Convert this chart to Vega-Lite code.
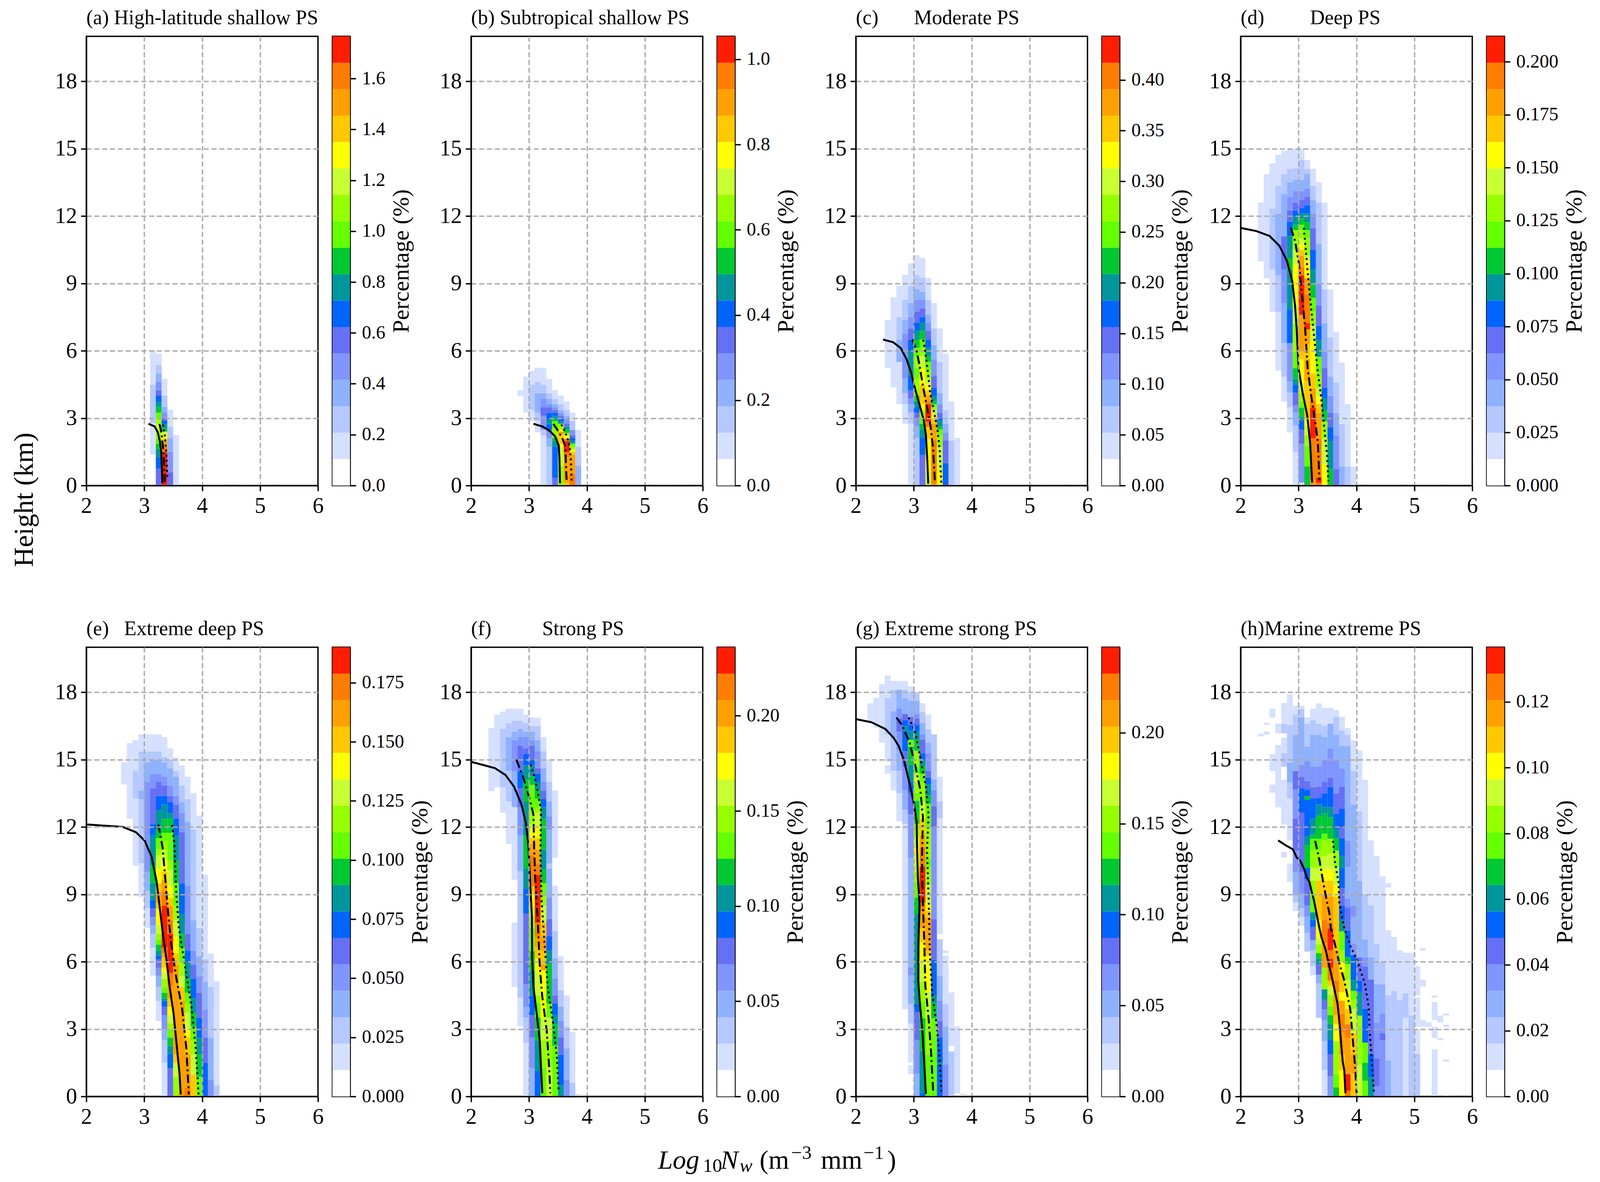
{"$schema":"https://vega.github.io/schema/vega-lite/v6.json","background":"white","padding":{"left":25,"top":18,"right":0,"bottom":0},"bounds":"flush","spacing":1564,
"config":{"range":{"ordinal":["#ffffff","#d5e0ff","#b5c8ff","#8fb2ff","#8095ff","#6570f5","#0064ff","#00969b","#00c832","#64ff00","#96ff00","#c8ff32","#ffff00","#ffc800","#ffa000","#ff7d00","#ff1e00"]},
"view":{"stroke":"#000","strokeWidth":3.5},
"title":{"font":"Liberation Serif","fontSize":52,"fontWeight":"normal","anchor":"start","frame":"group","offset":20,"color":"#000"},
"axis":{"labelFont":"Liberation Serif","titleFont":"Liberation Serif","titleFontWeight":"normal","titleColor":"#000","labelColor":"#000","labelFontSize":57,"labelPadding":10,"labelOverlap":false,"labelFlush":false,"labelBound":false,"tickColor":"#000","tickWidth":3.5,"tickSize":14,"domainColor":"#000","domainWidth":3.5,"grid":true,"gridColor":"#aaaaaa","gridWidth":3.5,"gridDash":[13,7]},
"axisRight":{"grid":false,"labelFontSize":48,"tickSize":15,"labelPadding":15,"titleFontSize":60,"titleAngle":270,"titlePadding":12,"titleBaseline":"top"}},
"datasets":{
"c":[{"l":0,"lo":0,"hi":1},{"l":1,"lo":1,"hi":2},{"l":2,"lo":2,"hi":3},{"l":3,"lo":3,"hi":4},{"l":4,"lo":4,"hi":5},{"l":5,"lo":5,"hi":6},{"l":6,"lo":6,"hi":7},{"l":7,"lo":7,"hi":8},{"l":8,"lo":8,"hi":9},{"l":9,"lo":9,"hi":10},{"l":10,"lo":10,"hi":11},{"l":11,"lo":11,"hi":12},{"l":12,"lo":12,"hi":13},{"l":13,"lo":13,"hi":14},{"l":14,"lo":14,"hi":15},{"l":15,"lo":15,"hi":16},{"l":16,"lo":16,"hi":17}],
"a":[{"x":3.15,"y":1.38,"y2":2.77,"l":1},{"x":3.15,"y":2.77,"y2":4.49,"l":2},{"x":3.15,"y":4.49,"y2":6,"l":1},
{"x":3.25,"y":0,"y2":0.75,"l":5},{"x":3.25,"y":0.75,"y2":1.25,"l":6},{"x":3.25,"y":1.25,"y2":1.62,"l":7},{"x":3.25,"y":1.62,"y2":1.87,"l":8},{"x":3.25,"y":1.87,"y2":2.1,"l":9},{"x":3.25,"y":2.1,"y2":2.45,"l":10},{"x":3.25,"y":2.45,"y2":2.75,"l":11},{"x":3.25,"y":2.75,"y2":3,"l":10},{"x":3.25,"y":3,"y2":3.25,"l":9},{"x":3.25,"y":3.25,"y2":3.5,"l":8},{"x":3.25,"y":3.5,"y2":3.74,"l":7},{"x":3.25,"y":3.74,"y2":4,"l":6},{"x":3.25,"y":4,"y2":4.25,"l":5},{"x":3.25,"y":4.25,"y2":4.63,"l":4},{"x":3.25,"y":4.63,"y2":5,"l":3},{"x":3.25,"y":5,"y2":5.37,"l":2},{"x":3.25,"y":5.37,"y2":5.87,"l":1},
{"x":3.35,"y":0,"y2":1.49,"l":16},{"x":3.35,"y":1.49,"y2":1.75,"l":15},{"x":3.35,"y":1.75,"y2":1.98,"l":14},{"x":3.35,"y":1.98,"y2":2.1,"l":13},{"x":3.35,"y":2.1,"y2":2.3,"l":12},{"x":3.35,"y":2.3,"y2":2.4,"l":11},{"x":3.35,"y":2.4,"y2":2.55,"l":8},{"x":3.35,"y":2.55,"y2":2.74,"l":7},{"x":3.35,"y":2.74,"y2":2.89,"l":6},{"x":3.35,"y":2.89,"y2":3,"l":5},{"x":3.35,"y":3,"y2":3.25,"l":4},{"x":3.35,"y":3.25,"y2":3.5,"l":3},{"x":3.35,"y":3.5,"y2":4,"l":2},{"x":3.35,"y":4,"y2":4.75,"l":1},
{"x":3.45,"y":0,"y2":0.6,"l":5},{"x":3.45,"y":0.6,"y2":1.5,"l":4},{"x":3.45,"y":1.5,"y2":2.12,"l":3},{"x":3.45,"y":2.12,"y2":2.62,"l":2},{"x":3.45,"y":2.62,"y2":3.37,"l":1},{"x":3.55,"y":0,"y2":2.25,"l":1}],
"b":[{"x":2.85,"y":4,"y2":4.24,"l":1},{"x":2.95,"y":3.25,"y2":4.85,"l":1},{"x":3.05,"y":2.88,"y2":3.36,"l":1},{"x":3.05,"y":3.36,"y2":4.49,"l":2},{"x":3.05,"y":4.49,"y2":5.11,"l":1},
{"x":3.15,"y":2.37,"y2":2.88,"l":1},{"x":3.15,"y":2.88,"y2":3.24,"l":2},{"x":3.15,"y":3.24,"y2":4.11,"l":3},{"x":3.15,"y":4.11,"y2":4.61,"l":2},{"x":3.15,"y":4.61,"y2":5.24,"l":1},
{"x":3.25,"y":0,"y2":2.23,"l":1},{"x":3.25,"y":2.23,"y2":2.48,"l":2},{"x":3.25,"y":2.48,"y2":3.11,"l":4},{"x":3.25,"y":3.11,"y2":3.49,"l":5},{"x":3.25,"y":3.49,"y2":3.87,"l":4},{"x":3.25,"y":3.87,"y2":4.11,"l":3},{"x":3.25,"y":4.11,"y2":4.49,"l":2},{"x":3.25,"y":4.49,"y2":5.24,"l":1},
{"x":3.35,"y":0,"y2":1.73,"l":2},{"x":3.35,"y":1.73,"y2":2.1,"l":3},{"x":3.35,"y":2.1,"y2":2.4,"l":4},{"x":3.35,"y":2.4,"y2":2.48,"l":5},{"x":3.35,"y":2.48,"y2":2.74,"l":6},{"x":3.35,"y":2.74,"y2":2.94,"l":7},{"x":3.35,"y":2.94,"y2":3.24,"l":6},{"x":3.35,"y":3.24,"y2":3.49,"l":5},{"x":3.35,"y":3.49,"y2":3.62,"l":4},{"x":3.35,"y":3.62,"y2":3.87,"l":3},{"x":3.35,"y":3.87,"y2":4.11,"l":2},{"x":3.35,"y":4.11,"y2":4.74,"l":1},
{"x":3.45,"y":0,"y2":0.35,"l":5},{"x":3.45,"y":0.35,"y2":1.73,"l":6},{"x":3.45,"y":1.73,"y2":1.98,"l":7},{"x":3.45,"y":1.98,"y2":2.12,"l":8},{"x":3.45,"y":2.12,"y2":2.55,"l":10},{"x":3.45,"y":2.55,"y2":2.87,"l":9},{"x":3.45,"y":2.87,"y2":2.94,"l":8},{"x":3.45,"y":2.94,"y2":3.11,"l":7},{"x":3.45,"y":3.11,"y2":3.24,"l":6},{"x":3.45,"y":3.24,"y2":3.36,"l":5},{"x":3.45,"y":3.36,"y2":3.49,"l":4},{"x":3.45,"y":3.49,"y2":3.62,"l":3},{"x":3.45,"y":3.62,"y2":3.87,"l":2},{"x":3.45,"y":3.87,"y2":4.24,"l":1},
{"x":3.55,"y":0,"y2":0.87,"l":10},{"x":3.55,"y":0.87,"y2":1.73,"l":11},{"x":3.55,"y":1.73,"y2":1.85,"l":12},{"x":3.55,"y":1.85,"y2":2.3,"l":13},{"x":3.55,"y":2.3,"y2":2.4,"l":14},{"x":3.55,"y":2.4,"y2":2.5,"l":12},{"x":3.55,"y":2.5,"y2":2.75,"l":10},{"x":3.55,"y":2.75,"y2":2.87,"l":7},{"x":3.55,"y":2.87,"y2":3,"l":6},{"x":3.55,"y":3,"y2":3.11,"l":5},{"x":3.55,"y":3.11,"y2":3.24,"l":4},{"x":3.55,"y":3.24,"y2":3.36,"l":3},{"x":3.55,"y":3.36,"y2":3.62,"l":2},{"x":3.55,"y":3.62,"y2":4,"l":1},
{"x":3.65,"y":0,"y2":0.12,"l":13},{"x":3.65,"y":0.12,"y2":1.25,"l":14},{"x":3.65,"y":1.25,"y2":1.48,"l":15},{"x":3.65,"y":1.48,"y2":1.98,"l":16},{"x":3.65,"y":1.98,"y2":2.08,"l":15},{"x":3.65,"y":2.08,"y2":2.23,"l":12},{"x":3.65,"y":2.23,"y2":2.35,"l":10},{"x":3.65,"y":2.35,"y2":2.5,"l":8},{"x":3.65,"y":2.5,"y2":2.62,"l":7},{"x":3.65,"y":2.62,"y2":2.75,"l":5},{"x":3.65,"y":2.75,"y2":3,"l":4},{"x":3.65,"y":3,"y2":3.11,"l":3},{"x":3.65,"y":3.11,"y2":3.36,"l":2},{"x":3.65,"y":3.36,"y2":3.74,"l":1},
{"x":3.75,"y":0,"y2":0.5,"l":15},{"x":3.75,"y":0.5,"y2":1.36,"l":14},{"x":3.75,"y":1.36,"y2":1.5,"l":13},{"x":3.75,"y":1.5,"y2":1.62,"l":12},{"x":3.75,"y":1.62,"y2":1.73,"l":10},{"x":3.75,"y":1.73,"y2":1.87,"l":9},{"x":3.75,"y":1.87,"y2":2,"l":7},{"x":3.75,"y":2,"y2":2.12,"l":6},{"x":3.75,"y":2.12,"y2":2.25,"l":5},{"x":3.75,"y":2.25,"y2":2.48,"l":4},{"x":3.75,"y":2.48,"y2":2.87,"l":2},{"x":3.75,"y":2.87,"y2":3.24,"l":1},
{"x":3.85,"y":0,"y2":0.87,"l":3},{"x":3.85,"y":0.87,"y2":1.73,"l":2},{"x":3.85,"y":1.73,"y2":2.48,"l":1}],
"cc":[{"x":2.55,"y":5.24,"y2":7.38,"l":1},{"x":2.65,"y":4.38,"y2":8.38,"l":1},{"x":2.75,"y":3.62,"y2":5.5,"l":1},{"x":2.75,"y":5.5,"y2":6.49,"l":3},{"x":2.75,"y":6.49,"y2":7.5,"l":2},{"x":2.75,"y":7.5,"y2":8.89,"l":1},
{"x":2.85,"y":2.75,"y2":3.62,"l":1},{"x":2.85,"y":3.62,"y2":4.12,"l":2},{"x":2.85,"y":4.12,"y2":4.76,"l":3},{"x":2.85,"y":4.76,"y2":6.75,"l":4},{"x":2.85,"y":6.75,"y2":7.38,"l":3},{"x":2.85,"y":7.38,"y2":8.26,"l":2},{"x":2.85,"y":8.26,"y2":9.38,"l":1},
{"x":2.95,"y":0,"y2":2.75,"l":1},{"x":2.95,"y":2.75,"y2":3.24,"l":2},{"x":2.95,"y":3.24,"y2":3.62,"l":3},{"x":2.95,"y":3.62,"y2":3.87,"l":4},{"x":2.95,"y":3.87,"y2":4.24,"l":5},{"x":2.95,"y":4.24,"y2":4.87,"l":6},{"x":2.95,"y":4.87,"y2":6,"l":7},{"x":2.95,"y":6,"y2":6.5,"l":6},{"x":2.95,"y":6.5,"y2":7,"l":5},{"x":2.95,"y":7,"y2":7.5,"l":4},{"x":2.95,"y":7.5,"y2":8.13,"l":3},{"x":2.95,"y":8.13,"y2":8.89,"l":2},{"x":2.95,"y":8.89,"y2":9.89,"l":1},
{"x":3.05,"y":0,"y2":2.12,"l":2},{"x":3.05,"y":2.12,"y2":2.64,"l":3},{"x":3.05,"y":2.64,"y2":3,"l":4},{"x":3.05,"y":3,"y2":3.24,"l":5},{"x":3.05,"y":3.24,"y2":3.5,"l":6},{"x":3.05,"y":3.5,"y2":3.76,"l":7},{"x":3.05,"y":3.76,"y2":4,"l":8},{"x":3.05,"y":4,"y2":4.76,"l":10},{"x":3.05,"y":4.76,"y2":5.24,"l":9},{"x":3.05,"y":5.24,"y2":5.76,"l":10},{"x":3.05,"y":5.76,"y2":6.13,"l":9},{"x":3.05,"y":6.13,"y2":6.5,"l":8},{"x":3.05,"y":6.5,"y2":6.89,"l":7},{"x":3.05,"y":6.89,"y2":7.25,"l":6},{"x":3.05,"y":7.25,"y2":7.75,"l":5},{"x":3.05,"y":7.75,"y2":8.26,"l":4},{"x":3.05,"y":8.26,"y2":8.76,"l":3},{"x":3.05,"y":8.76,"y2":9.38,"l":2},{"x":3.05,"y":9.38,"y2":10.26,"l":1},
{"x":3.15,"y":0,"y2":1.36,"l":5},{"x":3.15,"y":1.36,"y2":2.12,"l":6},{"x":3.15,"y":2.12,"y2":2.5,"l":7},{"x":3.15,"y":2.5,"y2":2.75,"l":8},{"x":3.15,"y":2.75,"y2":2.96,"l":9},{"x":3.15,"y":2.96,"y2":3.36,"l":10},{"x":3.15,"y":3.36,"y2":3.63,"l":12},{"x":3.15,"y":3.63,"y2":4.48,"l":13},{"x":3.15,"y":4.48,"y2":5.24,"l":12},{"x":3.15,"y":5.24,"y2":5.76,"l":11},{"x":3.15,"y":5.76,"y2":6.13,"l":10},{"x":3.15,"y":6.13,"y2":6.5,"l":9},{"x":3.15,"y":6.5,"y2":6.89,"l":8},{"x":3.15,"y":6.89,"y2":7.25,"l":7},{"x":3.15,"y":7.25,"y2":7.5,"l":6},{"x":3.15,"y":7.5,"y2":7.89,"l":5},{"x":3.15,"y":7.89,"y2":8.26,"l":4},{"x":3.15,"y":8.26,"y2":8.63,"l":3},{"x":3.15,"y":8.63,"y2":9.25,"l":2},{"x":3.15,"y":9.25,"y2":10.13,"l":1},
{"x":3.25,"y":0,"y2":0.6,"l":11},{"x":3.25,"y":0.6,"y2":2.08,"l":12},{"x":3.25,"y":2.08,"y2":2.6,"l":13},{"x":3.25,"y":2.6,"y2":2.84,"l":15},{"x":3.25,"y":2.84,"y2":3.63,"l":16},{"x":3.25,"y":3.63,"y2":3.75,"l":15},{"x":3.25,"y":3.75,"y2":4,"l":14},{"x":3.25,"y":4,"y2":4.24,"l":13},{"x":3.25,"y":4.24,"y2":4.5,"l":12},{"x":3.25,"y":4.5,"y2":4.74,"l":11},{"x":3.25,"y":4.74,"y2":5.12,"l":10},{"x":3.25,"y":5.12,"y2":5.5,"l":9},{"x":3.25,"y":5.5,"y2":5.76,"l":8},{"x":3.25,"y":5.76,"y2":6.13,"l":7},{"x":3.25,"y":6.13,"y2":6.5,"l":6},{"x":3.25,"y":6.5,"y2":6.89,"l":5},{"x":3.25,"y":6.89,"y2":7.25,"l":4},{"x":3.25,"y":7.25,"y2":7.62,"l":3},{"x":3.25,"y":7.62,"y2":8.26,"l":2},{"x":3.25,"y":8.26,"y2":9.25,"l":1},
{"x":3.35,"y":0,"y2":0.08,"l":14},{"x":3.35,"y":0.08,"y2":2,"l":15},{"x":3.35,"y":2,"y2":2.75,"l":14},{"x":3.35,"y":2.75,"y2":3,"l":13},{"x":3.35,"y":3,"y2":3.12,"l":12},{"x":3.35,"y":3.12,"y2":3.36,"l":11},{"x":3.35,"y":3.36,"y2":3.5,"l":10},{"x":3.35,"y":3.5,"y2":3.62,"l":9},{"x":3.35,"y":3.62,"y2":3.75,"l":8},{"x":3.35,"y":3.75,"y2":4,"l":7},{"x":3.35,"y":4,"y2":4.36,"l":6},{"x":3.35,"y":4.36,"y2":4.87,"l":5},{"x":3.35,"y":4.87,"y2":5.63,"l":4},{"x":3.35,"y":5.63,"y2":6.25,"l":3},{"x":3.35,"y":6.25,"y2":7,"l":2},{"x":3.35,"y":7,"y2":8.13,"l":1},
{"x":3.45,"y":0,"y2":0.62,"l":12},{"x":3.45,"y":0.62,"y2":1.72,"l":11},{"x":3.45,"y":1.72,"y2":2.24,"l":10},{"x":3.45,"y":2.24,"y2":2.5,"l":9},{"x":3.45,"y":2.5,"y2":2.63,"l":8},{"x":3.45,"y":2.63,"y2":2.88,"l":7},{"x":3.45,"y":2.88,"y2":3,"l":6},{"x":3.45,"y":3,"y2":3.24,"l":5},{"x":3.45,"y":3.24,"y2":3.62,"l":4},{"x":3.45,"y":3.62,"y2":4.12,"l":3},{"x":3.45,"y":4.12,"y2":5.5,"l":2},{"x":3.45,"y":5.5,"y2":7,"l":1},
{"x":3.55,"y":0,"y2":1,"l":6},{"x":3.55,"y":1,"y2":2,"l":5},{"x":3.55,"y":2,"y2":2.36,"l":4},{"x":3.55,"y":2.36,"y2":2.75,"l":3},{"x":3.55,"y":2.75,"y2":3.36,"l":2},{"x":3.55,"y":3.36,"y2":5.87,"l":1},
{"x":3.65,"y":0,"y2":2,"l":2},{"x":3.65,"y":2,"y2":3.75,"l":1},{"x":3.75,"y":0,"y2":2.12,"l":1}],
"d":[{"x":2.35,"y":9.98,"y2":12.6,"l":1},{"x":2.45,"y":9.23,"y2":13.86,"l":1},{"x":2.55,"y":7.73,"y2":9.62,"l":1},{"x":2.55,"y":9.62,"y2":12.33,"l":2},{"x":2.55,"y":12.33,"y2":14.35,"l":1},
{"x":2.65,"y":5.12,"y2":7.73,"l":1},{"x":2.65,"y":7.73,"y2":9.36,"l":2},{"x":2.65,"y":9.36,"y2":12.11,"l":3},{"x":2.65,"y":12.11,"y2":13.35,"l":2},{"x":2.65,"y":13.35,"y2":14.72,"l":1},
{"x":2.75,"y":3.74,"y2":4.85,"l":1},{"x":2.75,"y":4.85,"y2":6.34,"l":2},{"x":2.75,"y":6.34,"y2":8.12,"l":3},{"x":2.75,"y":8.12,"y2":9.62,"l":4},{"x":2.75,"y":9.62,"y2":11.1,"l":5},{"x":2.75,"y":11.1,"y2":13,"l":3},{"x":2.75,"y":13,"y2":13.86,"l":2},{"x":2.75,"y":13.86,"y2":14.9,"l":1},
{"x":2.85,"y":2.37,"y2":3.49,"l":1},{"x":2.85,"y":3.49,"y2":4.13,"l":2},{"x":2.85,"y":4.13,"y2":4.62,"l":3},{"x":2.85,"y":4.62,"y2":6.34,"l":4},{"x":2.85,"y":6.34,"y2":7.84,"l":6},{"x":2.85,"y":7.84,"y2":9.62,"l":7},{"x":2.85,"y":9.62,"y2":10.12,"l":8},{"x":2.85,"y":10.12,"y2":11.11,"l":7},{"x":2.85,"y":11.11,"y2":11.75,"l":6},{"x":2.85,"y":11.75,"y2":12.25,"l":5},{"x":2.85,"y":12.25,"y2":12.85,"l":4},{"x":2.85,"y":12.85,"y2":13.5,"l":3},{"x":2.85,"y":13.5,"y2":14.1,"l":2},{"x":2.85,"y":14.1,"y2":15,"l":1},
{"x":2.95,"y":0,"y2":1.49,"l":1},{"x":2.95,"y":1.49,"y2":2.68,"l":2},{"x":2.95,"y":2.68,"y2":3.24,"l":3},{"x":2.95,"y":3.24,"y2":3.57,"l":4},{"x":2.95,"y":3.57,"y2":4.13,"l":5},{"x":2.95,"y":4.13,"y2":4.5,"l":6},{"x":2.95,"y":4.5,"y2":4.74,"l":7},{"x":2.95,"y":4.74,"y2":5.23,"l":8},{"x":2.95,"y":5.23,"y2":5.96,"l":9},{"x":2.95,"y":5.96,"y2":7.23,"l":10},{"x":2.95,"y":7.23,"y2":8,"l":11},{"x":2.95,"y":8,"y2":9.86,"l":12},{"x":2.95,"y":9.86,"y2":10.5,"l":11},{"x":2.95,"y":10.5,"y2":11.37,"l":10},{"x":2.95,"y":11.37,"y2":11.61,"l":8},{"x":2.95,"y":11.61,"y2":11.98,"l":7},{"x":2.95,"y":11.98,"y2":12.25,"l":6},{"x":2.95,"y":12.25,"y2":12.6,"l":5},{"x":2.95,"y":12.6,"y2":13.11,"l":4},{"x":2.95,"y":13.11,"y2":13.6,"l":3},{"x":2.95,"y":13.6,"y2":14.13,"l":2},{"x":2.95,"y":14.13,"y2":14.97,"l":1},
{"x":3.05,"y":0,"y2":0.13,"l":1},{"x":3.05,"y":0.13,"y2":1.85,"l":4},{"x":3.05,"y":1.85,"y2":2.48,"l":5},{"x":3.05,"y":2.48,"y2":2.9,"l":6},{"x":3.05,"y":2.9,"y2":3.07,"l":7},{"x":3.05,"y":3.07,"y2":3.46,"l":8},{"x":3.05,"y":3.46,"y2":3.74,"l":9},{"x":3.05,"y":3.74,"y2":4.13,"l":10},{"x":3.05,"y":4.13,"y2":4.57,"l":11},{"x":3.05,"y":4.57,"y2":5.62,"l":12},{"x":3.05,"y":5.62,"y2":5.96,"l":13},{"x":3.05,"y":5.96,"y2":7.6,"l":14},{"x":3.05,"y":7.6,"y2":9.36,"l":16},{"x":3.05,"y":9.36,"y2":9.73,"l":15},{"x":3.05,"y":9.73,"y2":10.23,"l":14},{"x":3.05,"y":10.23,"y2":10.5,"l":13},{"x":3.05,"y":10.5,"y2":10.75,"l":12},{"x":3.05,"y":10.75,"y2":11,"l":11},{"x":3.05,"y":11,"y2":11.37,"l":10},{"x":3.05,"y":11.37,"y2":11.61,"l":9},{"x":3.05,"y":11.61,"y2":11.89,"l":8},{"x":3.05,"y":11.89,"y2":12.11,"l":7},{"x":3.05,"y":12.11,"y2":12.36,"l":6},{"x":3.05,"y":12.36,"y2":12.72,"l":5},{"x":3.05,"y":12.72,"y2":13.11,"l":4},{"x":3.05,"y":13.11,"y2":13.6,"l":3},{"x":3.05,"y":13.6,"y2":14.5,"l":2},{"x":3.05,"y":14.5,"y2":15,"l":1},
{"x":3.15,"y":0,"y2":0.85,"l":8},{"x":3.15,"y":0.85,"y2":1.74,"l":9},{"x":3.15,"y":1.74,"y2":2.24,"l":10},{"x":3.15,"y":2.24,"y2":2.63,"l":11},{"x":3.15,"y":2.63,"y2":3,"l":12},{"x":3.15,"y":3,"y2":4.68,"l":13},{"x":3.15,"y":4.68,"y2":5.62,"l":14},{"x":3.15,"y":5.62,"y2":6.29,"l":13},{"x":3.15,"y":6.29,"y2":6.95,"l":14},{"x":3.15,"y":6.95,"y2":7.23,"l":16},{"x":3.15,"y":7.23,"y2":8.5,"l":15},{"x":3.15,"y":8.5,"y2":9.23,"l":14},{"x":3.15,"y":9.23,"y2":10,"l":12},{"x":3.15,"y":10,"y2":10.26,"l":11},{"x":3.15,"y":10.26,"y2":11,"l":10},{"x":3.15,"y":11,"y2":11.37,"l":9},{"x":3.15,"y":11.37,"y2":11.72,"l":8},{"x":3.15,"y":11.72,"y2":12.11,"l":7},{"x":3.15,"y":12.11,"y2":12.48,"l":6},{"x":3.15,"y":12.48,"y2":12.85,"l":5},{"x":3.15,"y":12.85,"y2":13.22,"l":4},{"x":3.15,"y":13.22,"y2":13.86,"l":3},{"x":3.15,"y":13.86,"y2":14.1,"l":2},{"x":3.15,"y":14.1,"y2":14.5,"l":1},
{"x":3.25,"y":0,"y2":0.25,"l":14},{"x":3.25,"y":0.25,"y2":2.1,"l":15},{"x":3.25,"y":2.1,"y2":3.46,"l":16},{"x":3.25,"y":3.46,"y2":3.8,"l":15},{"x":3.25,"y":3.8,"y2":4.34,"l":14},{"x":3.25,"y":4.34,"y2":5,"l":13},{"x":3.25,"y":5,"y2":6.4,"l":12},{"x":3.25,"y":6.4,"y2":7.12,"l":11},{"x":3.25,"y":7.12,"y2":7.73,"l":10},{"x":3.25,"y":7.73,"y2":8.36,"l":9},{"x":3.25,"y":8.36,"y2":9,"l":8},{"x":3.25,"y":9,"y2":9.62,"l":7},{"x":3.25,"y":9.62,"y2":10.5,"l":6},{"x":3.25,"y":10.5,"y2":11.47,"l":5},{"x":3.25,"y":11.47,"y2":12.11,"l":4},{"x":3.25,"y":12.11,"y2":12.72,"l":3},{"x":3.25,"y":12.72,"y2":13.35,"l":2},{"x":3.25,"y":13.35,"y2":14.1,"l":1},
{"x":3.35,"y":0,"y2":0.12,"l":15},{"x":3.35,"y":0.12,"y2":0.35,"l":16},{"x":3.35,"y":0.35,"y2":2.1,"l":15},{"x":3.35,"y":2.1,"y2":3.24,"l":14},{"x":3.35,"y":3.24,"y2":3.63,"l":13},{"x":3.35,"y":3.63,"y2":3.96,"l":12},{"x":3.35,"y":3.96,"y2":4.35,"l":11},{"x":3.35,"y":4.35,"y2":5,"l":10},{"x":3.35,"y":5,"y2":5.73,"l":9},{"x":3.35,"y":5.73,"y2":6.48,"l":7},{"x":3.35,"y":6.48,"y2":7.12,"l":6},{"x":3.35,"y":7.12,"y2":8,"l":5},{"x":3.35,"y":8,"y2":9,"l":4},{"x":3.35,"y":9,"y2":10.76,"l":3},{"x":3.35,"y":10.76,"y2":12.6,"l":2},{"x":3.35,"y":12.6,"y2":13.5,"l":1},
{"x":3.45,"y":0,"y2":0.96,"l":12},{"x":3.45,"y":0.96,"y2":2.1,"l":11},{"x":3.45,"y":2.1,"y2":2.85,"l":10},{"x":3.45,"y":2.85,"y2":3.35,"l":8},{"x":3.45,"y":3.35,"y2":3.88,"l":7},{"x":3.45,"y":3.88,"y2":4.35,"l":6},{"x":3.45,"y":4.35,"y2":5.23,"l":5},{"x":3.45,"y":5.23,"y2":5.96,"l":4},{"x":3.45,"y":5.96,"y2":7.23,"l":3},{"x":3.45,"y":7.23,"y2":8.73,"l":2},{"x":3.45,"y":8.73,"y2":12.6,"l":1},
{"x":3.55,"y":0,"y2":0.74,"l":8},{"x":3.55,"y":0.74,"y2":2,"l":7},{"x":3.55,"y":2,"y2":2.6,"l":6},{"x":3.55,"y":2.6,"y2":3.24,"l":5},{"x":3.55,"y":3.24,"y2":3.99,"l":4},{"x":3.55,"y":3.99,"y2":4.85,"l":3},{"x":3.55,"y":4.85,"y2":6.59,"l":2},{"x":3.55,"y":6.59,"y2":8.73,"l":1},
{"x":3.65,"y":0,"y2":0.74,"l":5},{"x":3.65,"y":0.74,"y2":2.24,"l":4},{"x":3.65,"y":2.24,"y2":3.24,"l":3},{"x":3.65,"y":3.24,"y2":4.6,"l":2},{"x":3.65,"y":4.6,"y2":6.84,"l":1},
{"x":3.75,"y":0,"y2":0.85,"l":3},{"x":3.75,"y":0.85,"y2":2.74,"l":2},{"x":3.75,"y":2.74,"y2":5.48,"l":1},{"x":3.85,"y":0,"y2":0.85,"l":2},{"x":3.85,"y":0.85,"y2":3.62,"l":1},{"x":3.95,"y":0,"y2":0.85,"l":1}],
"e":[{"x":2.65,"y":13.89,"y2":14.87,"l":1},{"x":2.75,"y":12.36,"y2":15.73,"l":1},{"x":2.85,"y":10.27,"y2":13.26,"l":1},{"x":2.85,"y":13.26,"y2":14.5,"l":2},{"x":2.85,"y":14.5,"y2":15.87,"l":1},
{"x":2.95,"y":8.88,"y2":10.38,"l":1},{"x":2.95,"y":10.38,"y2":13.23,"l":2},{"x":2.95,"y":13.23,"y2":13.62,"l":3},{"x":2.95,"y":13.62,"y2":15.36,"l":2},{"x":2.95,"y":15.36,"y2":16.12,"l":1},
{"x":3.05,"y":7.5,"y2":8.38,"l":1},{"x":3.05,"y":8.38,"y2":9.15,"l":2},{"x":3.05,"y":9.15,"y2":10,"l":3},{"x":3.05,"y":10,"y2":14,"l":4},{"x":3.05,"y":14,"y2":14.87,"l":3},{"x":3.05,"y":14.87,"y2":15.36,"l":2},{"x":3.05,"y":15.36,"y2":16.12,"l":1},
{"x":3.15,"y":5.37,"y2":6.62,"l":1},{"x":3.15,"y":6.62,"y2":7.24,"l":2},{"x":3.15,"y":7.24,"y2":7.62,"l":3},{"x":3.15,"y":7.62,"y2":8,"l":4},{"x":3.15,"y":8,"y2":8.38,"l":5},{"x":3.15,"y":8.38,"y2":8.76,"l":6},{"x":3.15,"y":8.76,"y2":9.5,"l":7},{"x":3.15,"y":9.5,"y2":10.27,"l":8},{"x":3.15,"y":10.27,"y2":11.62,"l":7},{"x":3.15,"y":11.62,"y2":12.12,"l":6},{"x":3.15,"y":12.12,"y2":13.73,"l":5},{"x":3.15,"y":13.73,"y2":14.36,"l":4},{"x":3.15,"y":14.36,"y2":15,"l":3},{"x":3.15,"y":15,"y2":15.36,"l":2},{"x":3.15,"y":15.36,"y2":16.12,"l":1},
{"x":3.25,"y":3.36,"y2":4.25,"l":1},{"x":3.25,"y":4.25,"y2":4.88,"l":2},{"x":3.25,"y":4.88,"y2":5.37,"l":3},{"x":3.25,"y":5.37,"y2":5.74,"l":4},{"x":3.25,"y":5.74,"y2":6.1,"l":5},{"x":3.25,"y":6.1,"y2":6.27,"l":6},{"x":3.25,"y":6.27,"y2":6.5,"l":7},{"x":3.25,"y":6.5,"y2":6.76,"l":8},{"x":3.25,"y":6.76,"y2":7,"l":9},{"x":3.25,"y":7,"y2":7.24,"l":10},{"x":3.25,"y":7.24,"y2":7.62,"l":11},{"x":3.25,"y":7.62,"y2":8.36,"l":12},{"x":3.25,"y":8.36,"y2":8.62,"l":13},{"x":3.25,"y":8.62,"y2":9.11,"l":14},{"x":3.25,"y":9.11,"y2":9.48,"l":13},{"x":3.25,"y":9.48,"y2":10.11,"l":12},{"x":3.25,"y":10.11,"y2":10.74,"l":11},{"x":3.25,"y":10.74,"y2":11,"l":10},{"x":3.25,"y":11,"y2":11.5,"l":9},{"x":3.25,"y":11.5,"y2":11.88,"l":8},{"x":3.25,"y":11.88,"y2":12.74,"l":7},{"x":3.25,"y":12.74,"y2":13.38,"l":6},{"x":3.25,"y":13.38,"y2":14,"l":5},{"x":3.25,"y":14,"y2":14.36,"l":4},{"x":3.25,"y":14.36,"y2":15,"l":3},{"x":3.25,"y":15,"y2":15.36,"l":2},{"x":3.25,"y":15.36,"y2":16.12,"l":1},
{"x":3.35,"y":0,"y2":1.5,"l":1},{"x":3.35,"y":1.5,"y2":2.5,"l":2},{"x":3.35,"y":2.5,"y2":3,"l":3},{"x":3.35,"y":3,"y2":3.62,"l":4},{"x":3.35,"y":3.62,"y2":4,"l":5},{"x":3.35,"y":4,"y2":4.25,"l":6},{"x":3.35,"y":4.25,"y2":4.36,"l":7},{"x":3.35,"y":4.36,"y2":4.62,"l":8},{"x":3.35,"y":4.62,"y2":4.88,"l":9},{"x":3.35,"y":4.88,"y2":5.24,"l":10},{"x":3.35,"y":5.24,"y2":5.5,"l":11},{"x":3.35,"y":5.5,"y2":5.74,"l":12},{"x":3.35,"y":5.74,"y2":6.2,"l":13},{"x":3.35,"y":6.2,"y2":6.38,"l":14},{"x":3.35,"y":6.38,"y2":6.62,"l":15},{"x":3.35,"y":6.62,"y2":8.5,"l":16},{"x":3.35,"y":8.5,"y2":9.11,"l":15},{"x":3.35,"y":9.11,"y2":9.62,"l":14},{"x":3.35,"y":9.62,"y2":10,"l":13},{"x":3.35,"y":10,"y2":10.5,"l":12},{"x":3.35,"y":10.5,"y2":10.97,"l":11},{"x":3.35,"y":10.97,"y2":11.37,"l":10},{"x":3.35,"y":11.37,"y2":11.74,"l":9},{"x":3.35,"y":11.74,"y2":12.36,"l":8},{"x":3.35,"y":12.36,"y2":13,"l":7},{"x":3.35,"y":13,"y2":13.38,"l":6},{"x":3.35,"y":13.38,"y2":13.85,"l":5},{"x":3.35,"y":13.85,"y2":14.24,"l":4},{"x":3.35,"y":14.24,"y2":14.87,"l":3},{"x":3.35,"y":14.87,"y2":15.12,"l":2},{"x":3.35,"y":15.12,"y2":16,"l":1},
{"x":3.45,"y":0,"y2":1.25,"l":5},{"x":3.45,"y":1.25,"y2":1.88,"l":6},{"x":3.45,"y":1.88,"y2":2.25,"l":7},{"x":3.45,"y":2.25,"y2":2.62,"l":8},{"x":3.45,"y":2.62,"y2":3,"l":9},{"x":3.45,"y":3,"y2":3.25,"l":10},{"x":3.45,"y":3.25,"y2":3.62,"l":11},{"x":3.45,"y":3.62,"y2":4,"l":12},{"x":3.45,"y":4,"y2":4.36,"l":13},{"x":3.45,"y":4.36,"y2":4.88,"l":14},{"x":3.45,"y":4.88,"y2":5.5,"l":15},{"x":3.45,"y":5.5,"y2":7.24,"l":16},{"x":3.45,"y":7.24,"y2":7.85,"l":15},{"x":3.45,"y":7.85,"y2":8.5,"l":14},{"x":3.45,"y":8.5,"y2":8.85,"l":13},{"x":3.45,"y":8.85,"y2":9.37,"l":12},{"x":3.45,"y":9.37,"y2":10.11,"l":11},{"x":3.45,"y":10.11,"y2":10.5,"l":10},{"x":3.45,"y":10.5,"y2":11.74,"l":9},{"x":3.45,"y":11.74,"y2":12.38,"l":8},{"x":3.45,"y":12.38,"y2":12.62,"l":7},{"x":3.45,"y":12.62,"y2":13.11,"l":6},{"x":3.45,"y":13.11,"y2":13.38,"l":5},{"x":3.45,"y":13.38,"y2":13.85,"l":4},{"x":3.45,"y":13.85,"y2":14.62,"l":3},{"x":3.45,"y":14.62,"y2":15,"l":2},{"x":3.45,"y":15,"y2":15.5,"l":1},
{"x":3.55,"y":0,"y2":0.88,"l":10},{"x":3.55,"y":0.88,"y2":1.5,"l":11},{"x":3.55,"y":1.5,"y2":1.88,"l":13},{"x":3.55,"y":1.88,"y2":5.86,"l":14},{"x":3.55,"y":5.86,"y2":6.39,"l":13},{"x":3.55,"y":6.39,"y2":7.11,"l":12},{"x":3.55,"y":7.11,"y2":7.85,"l":11},{"x":3.55,"y":7.85,"y2":8.5,"l":10},{"x":3.55,"y":8.5,"y2":9.5,"l":9},{"x":3.55,"y":9.5,"y2":10.5,"l":8},{"x":3.55,"y":10.5,"y2":11.62,"l":7},{"x":3.55,"y":11.62,"y2":12.38,"l":6},{"x":3.55,"y":12.38,"y2":13,"l":5},{"x":3.55,"y":13,"y2":13.38,"l":4},{"x":3.55,"y":13.38,"y2":14.24,"l":3},{"x":3.55,"y":14.24,"y2":14.5,"l":2},{"x":3.55,"y":14.5,"y2":15.1,"l":1},
{"x":3.65,"y":0,"y2":4.27,"l":14},{"x":3.65,"y":4.27,"y2":4.88,"l":13},{"x":3.65,"y":4.88,"y2":5.35,"l":11},{"x":3.65,"y":5.35,"y2":5.97,"l":10},{"x":3.65,"y":5.97,"y2":6.62,"l":9},{"x":3.65,"y":6.62,"y2":7.24,"l":8},{"x":3.65,"y":7.24,"y2":8.11,"l":7},{"x":3.65,"y":8.11,"y2":9.48,"l":6},{"x":3.65,"y":9.48,"y2":11.76,"l":5},{"x":3.65,"y":11.76,"y2":12.62,"l":4},{"x":3.65,"y":12.62,"y2":13.11,"l":3},{"x":3.65,"y":13.11,"y2":13.85,"l":2},{"x":3.65,"y":13.85,"y2":14.73,"l":1},
{"x":3.75,"y":0,"y2":0.39,"l":15},{"x":3.75,"y":0.39,"y2":1.88,"l":14},{"x":3.75,"y":1.88,"y2":2.62,"l":13},{"x":3.75,"y":2.62,"y2":3,"l":12},{"x":3.75,"y":3,"y2":3.74,"l":11},{"x":3.75,"y":3.74,"y2":4.12,"l":10},{"x":3.75,"y":4.12,"y2":4.62,"l":9},{"x":3.75,"y":4.62,"y2":5.24,"l":8},{"x":3.75,"y":5.24,"y2":5.97,"l":7},{"x":3.75,"y":5.97,"y2":6.5,"l":6},{"x":3.75,"y":6.5,"y2":7.24,"l":5},{"x":3.75,"y":7.24,"y2":9.38,"l":4},{"x":3.75,"y":9.38,"y2":12.24,"l":3},{"x":3.75,"y":12.24,"y2":13.24,"l":2},{"x":3.75,"y":13.24,"y2":14.24,"l":1},
{"x":3.85,"y":0,"y2":0.98,"l":13},{"x":3.85,"y":0.98,"y2":1.88,"l":11},{"x":3.85,"y":1.88,"y2":2.5,"l":10},{"x":3.85,"y":2.5,"y2":3.12,"l":9},{"x":3.85,"y":3.12,"y2":3.74,"l":8},{"x":3.85,"y":3.74,"y2":4.36,"l":7},{"x":3.85,"y":4.36,"y2":5.24,"l":6},{"x":3.85,"y":5.24,"y2":5.86,"l":5},{"x":3.85,"y":5.86,"y2":6.5,"l":4},{"x":3.85,"y":6.5,"y2":7.85,"l":3},{"x":3.85,"y":7.85,"y2":11.89,"l":2},{"x":3.85,"y":11.89,"y2":13.5,"l":1},
{"x":3.95,"y":0,"y2":0.88,"l":9},{"x":3.95,"y":0.88,"y2":1.88,"l":8},{"x":3.95,"y":1.88,"y2":2.62,"l":7},{"x":3.95,"y":2.62,"y2":3.5,"l":6},{"x":3.95,"y":3.5,"y2":4.62,"l":5},{"x":3.95,"y":4.62,"y2":5.35,"l":4},{"x":3.95,"y":5.35,"y2":6.24,"l":3},{"x":3.95,"y":6.24,"y2":7.5,"l":2},{"x":3.95,"y":7.5,"y2":12.5,"l":1},
{"x":4.05,"y":0,"y2":1.5,"l":6},{"x":4.05,"y":1.5,"y2":2.62,"l":5},{"x":4.05,"y":2.62,"y2":3.86,"l":4},{"x":4.05,"y":3.86,"y2":5.12,"l":3},{"x":4.05,"y":5.12,"y2":6.11,"l":2},{"x":4.05,"y":6.11,"y2":9.88,"l":1},
{"x":4.15,"y":0,"y2":0.74,"l":4},{"x":4.15,"y":0.74,"y2":2.62,"l":3},{"x":4.15,"y":2.62,"y2":4.88,"l":2},{"x":4.15,"y":4.88,"y2":6.36,"l":1},{"x":4.25,"y":0,"y2":0.5,"l":2},{"x":4.25,"y":0.5,"y2":5.12,"l":1}],
"f":[{"x":2.35,"y":13.6,"y2":16.4,"l":1},{"x":2.45,"y":13.77,"y2":17,"l":1},{"x":2.55,"y":12.63,"y2":13.77,"l":1},{"x":2.55,"y":13.77,"y2":16.37,"l":2},{"x":2.55,"y":16.37,"y2":17.13,"l":1},
{"x":2.65,"y":11.25,"y2":13.13,"l":1},{"x":2.65,"y":13.13,"y2":14.5,"l":2},{"x":2.65,"y":14.5,"y2":16,"l":3},{"x":2.65,"y":16,"y2":16.62,"l":2},{"x":2.65,"y":16.62,"y2":17.26,"l":1},
{"x":2.75,"y":4.88,"y2":7.74,"l":1},{"x":2.75,"y":9.65,"y2":12.88,"l":1},{"x":2.75,"y":12.88,"y2":14.48,"l":3},{"x":2.75,"y":14.48,"y2":15.87,"l":4},{"x":2.75,"y":15.87,"y2":16.25,"l":3},{"x":2.75,"y":16.25,"y2":16.74,"l":2},{"x":2.75,"y":16.74,"y2":17.26,"l":1},
{"x":2.85,"y":3.13,"y2":4.39,"l":1},{"x":2.85,"y":4.39,"y2":10.02,"l":2},{"x":2.85,"y":10.02,"y2":11.62,"l":3},{"x":2.85,"y":11.62,"y2":12.88,"l":4},{"x":2.85,"y":12.88,"y2":13.74,"l":5},{"x":2.85,"y":13.74,"y2":14.48,"l":6},{"x":2.85,"y":14.48,"y2":15.62,"l":5},{"x":2.85,"y":15.62,"y2":16,"l":4},{"x":2.85,"y":16,"y2":16.37,"l":3},{"x":2.85,"y":16.37,"y2":16.74,"l":2},{"x":2.85,"y":16.74,"y2":17.26,"l":1},
{"x":2.95,"y":0,"y2":2.39,"l":1},{"x":2.95,"y":2.39,"y2":3.51,"l":2},{"x":2.95,"y":3.51,"y2":4,"l":3},{"x":2.95,"y":4,"y2":5,"l":4},{"x":2.95,"y":5,"y2":8.14,"l":5},{"x":2.95,"y":8.14,"y2":9.25,"l":6},{"x":2.95,"y":9.25,"y2":10.14,"l":7},{"x":2.95,"y":10.14,"y2":11.62,"l":8},{"x":2.95,"y":11.62,"y2":13.13,"l":7},{"x":2.95,"y":13.13,"y2":14.14,"l":8},{"x":2.95,"y":14.14,"y2":14.74,"l":7},{"x":2.95,"y":14.74,"y2":15.26,"l":6},{"x":2.95,"y":15.26,"y2":15.51,"l":5},{"x":2.95,"y":15.51,"y2":16,"l":4},{"x":2.95,"y":16,"y2":16.25,"l":3},{"x":2.95,"y":16.25,"y2":16.62,"l":2},{"x":2.95,"y":16.62,"y2":17,"l":1},
{"x":3.05,"y":0,"y2":1.25,"l":3},{"x":3.05,"y":1.25,"y2":2.63,"l":4},{"x":3.05,"y":2.63,"y2":3.62,"l":5},{"x":3.05,"y":3.62,"y2":4.5,"l":6},{"x":3.05,"y":4.5,"y2":5.62,"l":7},{"x":3.05,"y":5.62,"y2":6.48,"l":8},{"x":3.05,"y":6.48,"y2":7.5,"l":9},{"x":3.05,"y":7.5,"y2":8,"l":10},{"x":3.05,"y":8,"y2":8.48,"l":11},{"x":3.05,"y":8.48,"y2":9,"l":12},{"x":3.05,"y":9,"y2":9.36,"l":13},{"x":3.05,"y":9.36,"y2":10.74,"l":15},{"x":3.05,"y":10.74,"y2":11.26,"l":14},{"x":3.05,"y":11.26,"y2":11.5,"l":13},{"x":3.05,"y":11.5,"y2":12,"l":12},{"x":3.05,"y":12,"y2":12.14,"l":11},{"x":3.05,"y":12.14,"y2":12.77,"l":10},{"x":3.05,"y":12.77,"y2":13.87,"l":9},{"x":3.05,"y":13.87,"y2":14.25,"l":8},{"x":3.05,"y":14.25,"y2":14.74,"l":7},{"x":3.05,"y":14.74,"y2":15,"l":6},{"x":3.05,"y":15,"y2":15.62,"l":5},{"x":3.05,"y":15.62,"y2":15.87,"l":4},{"x":3.05,"y":15.87,"y2":16.25,"l":3},{"x":3.05,"y":16.25,"y2":16.5,"l":2},{"x":3.05,"y":16.5,"y2":16.88,"l":1},
{"x":3.15,"y":0,"y2":1.13,"l":6},{"x":3.15,"y":1.13,"y2":2.5,"l":7},{"x":3.15,"y":2.5,"y2":3.51,"l":8},{"x":3.15,"y":3.51,"y2":4.14,"l":9},{"x":3.15,"y":4.14,"y2":4.5,"l":10},{"x":3.15,"y":4.5,"y2":5.51,"l":11},{"x":3.15,"y":5.51,"y2":6.14,"l":12},{"x":3.15,"y":6.14,"y2":6.63,"l":13},{"x":3.15,"y":6.63,"y2":7.11,"l":14},{"x":3.15,"y":7.11,"y2":7.74,"l":15},{"x":3.15,"y":7.74,"y2":9.87,"l":16},{"x":3.15,"y":9.87,"y2":10.37,"l":15},{"x":3.15,"y":10.37,"y2":11,"l":14},{"x":3.15,"y":11,"y2":11.5,"l":13},{"x":3.15,"y":11.5,"y2":12,"l":12},{"x":3.15,"y":12,"y2":12.63,"l":11},{"x":3.15,"y":12.63,"y2":12.88,"l":10},{"x":3.15,"y":12.88,"y2":13.25,"l":9},{"x":3.15,"y":13.25,"y2":13.62,"l":8},{"x":3.15,"y":13.62,"y2":14,"l":7},{"x":3.15,"y":14,"y2":14.37,"l":6},{"x":3.15,"y":14.37,"y2":14.62,"l":5},{"x":3.15,"y":14.62,"y2":15.37,"l":4},{"x":3.15,"y":15.37,"y2":15.87,"l":3},{"x":3.15,"y":15.87,"y2":16.5,"l":2},{"x":3.15,"y":16.5,"y2":16.86,"l":1},
{"x":3.25,"y":0,"y2":1.26,"l":9},{"x":3.25,"y":1.26,"y2":2.5,"l":10},{"x":3.25,"y":2.5,"y2":3.5,"l":11},{"x":3.25,"y":3.5,"y2":5.62,"l":12},{"x":3.25,"y":5.62,"y2":5.9,"l":14},{"x":3.25,"y":5.9,"y2":6.48,"l":13},{"x":3.25,"y":6.48,"y2":7.11,"l":14},{"x":3.25,"y":7.11,"y2":7.74,"l":13},{"x":3.25,"y":7.74,"y2":8.48,"l":11},{"x":3.25,"y":8.48,"y2":9,"l":10},{"x":3.25,"y":9,"y2":9.5,"l":9},{"x":3.25,"y":9.5,"y2":10.11,"l":8},{"x":3.25,"y":10.11,"y2":11,"l":7},{"x":3.25,"y":11,"y2":12.37,"l":8},{"x":3.25,"y":12.37,"y2":12.88,"l":7},{"x":3.25,"y":12.88,"y2":13.25,"l":6},{"x":3.25,"y":13.25,"y2":13.62,"l":5},{"x":3.25,"y":13.62,"y2":14,"l":4},{"x":3.25,"y":14,"y2":14.62,"l":3},{"x":3.25,"y":14.62,"y2":15.37,"l":2},{"x":3.25,"y":15.37,"y2":16,"l":1},
{"x":3.35,"y":0,"y2":1.34,"l":11},{"x":3.35,"y":1.34,"y2":2.5,"l":10},{"x":3.35,"y":2.5,"y2":3.5,"l":11},{"x":3.35,"y":3.5,"y2":4.14,"l":9},{"x":3.35,"y":4.14,"y2":5.9,"l":8},{"x":3.35,"y":5.9,"y2":6.48,"l":7},{"x":3.35,"y":6.48,"y2":7.14,"l":6},{"x":3.35,"y":7.14,"y2":7.9,"l":5},{"x":3.35,"y":7.9,"y2":8.85,"l":4},{"x":3.35,"y":8.85,"y2":10.14,"l":3},{"x":3.35,"y":10.14,"y2":10.37,"l":2},{"x":3.35,"y":10.37,"y2":11.88,"l":3},{"x":3.35,"y":11.88,"y2":12.48,"l":4},{"x":3.35,"y":12.48,"y2":13.13,"l":3},{"x":3.35,"y":13.13,"y2":14,"l":2},{"x":3.35,"y":14,"y2":15,"l":1},
{"x":3.45,"y":0,"y2":2.25,"l":9},{"x":3.45,"y":2.25,"y2":3.22,"l":8},{"x":3.45,"y":3.22,"y2":3.62,"l":7},{"x":3.45,"y":3.62,"y2":4.14,"l":6},{"x":3.45,"y":4.14,"y2":4.5,"l":5},{"x":3.45,"y":4.5,"y2":5.25,"l":4},{"x":3.45,"y":5.25,"y2":6.14,"l":3},{"x":3.45,"y":6.14,"y2":7.37,"l":2},{"x":3.45,"y":7.37,"y2":9.37,"l":1},{"x":3.45,"y":10.63,"y2":13.62,"l":1},
{"x":3.55,"y":0,"y2":0.5,"l":7},{"x":3.55,"y":0.5,"y2":1.87,"l":6},{"x":3.55,"y":1.87,"y2":2.63,"l":5},{"x":3.55,"y":2.63,"y2":3.37,"l":4},{"x":3.55,"y":3.37,"y2":4,"l":3},{"x":3.55,"y":4,"y2":4.74,"l":2},{"x":3.55,"y":4.74,"y2":6.25,"l":1},
{"x":3.65,"y":0,"y2":0.74,"l":4},{"x":3.65,"y":0.74,"y2":2.14,"l":3},{"x":3.65,"y":2.14,"y2":3.11,"l":2},{"x":3.65,"y":3.11,"y2":4.5,"l":1},{"x":3.75,"y":0,"y2":0.62,"l":2},{"x":3.75,"y":0.62,"y2":2.88,"l":1},{"x":3.85,"y":0,"y2":0.11,"l":1}],
"g":[{"x":2.25,"y":16.7,"y2":17.5,"l":1},{"x":2.35,"y":16.42,"y2":17.75,"l":1},{"x":2.45,"y":15.76,"y2":18.36,"l":1},{"x":2.55,"y":14.37,"y2":14.75,"l":1},{"x":2.55,"y":14.9,"y2":16.12,"l":1},{"x":2.55,"y":16.12,"y2":17.75,"l":2},{"x":2.55,"y":17.75,"y2":18.74,"l":1},
{"x":2.65,"y":13.62,"y2":14.5,"l":1},{"x":2.65,"y":14.5,"y2":15.96,"l":2},{"x":2.65,"y":15.96,"y2":17.15,"l":3},{"x":2.65,"y":17.15,"y2":18.11,"l":2},{"x":2.65,"y":18.11,"y2":18.5,"l":1},
{"x":2.75,"y":12.25,"y2":13.5,"l":1},{"x":2.75,"y":13.5,"y2":14.5,"l":2},{"x":2.75,"y":14.5,"y2":15.45,"l":3},{"x":2.75,"y":15.45,"y2":16.24,"l":4},{"x":2.75,"y":16.24,"y2":16.84,"l":5},{"x":2.75,"y":16.84,"y2":17.27,"l":4},{"x":2.75,"y":17.27,"y2":18.11,"l":3},{"x":2.75,"y":18.11,"y2":18.5,"l":1},
{"x":2.85,"y":3.88,"y2":12.13,"l":1},{"x":2.85,"y":12.13,"y2":12.76,"l":2},{"x":2.85,"y":12.76,"y2":13.64,"l":3},{"x":2.85,"y":13.64,"y2":14.67,"l":4},{"x":2.85,"y":14.67,"y2":15.37,"l":5},{"x":2.85,"y":15.37,"y2":16.27,"l":6},{"x":2.85,"y":16.27,"y2":16.48,"l":7},{"x":2.85,"y":16.48,"y2":16.76,"l":6},{"x":2.85,"y":16.76,"y2":17.03,"l":5},{"x":2.85,"y":17.03,"y2":17.75,"l":3},{"x":2.85,"y":17.75,"y2":18.11,"l":2},{"x":2.85,"y":18.11,"y2":18.5,"l":1},
{"x":2.95,"y":1,"y2":1.39,"l":1},{"x":2.95,"y":1.51,"y2":3.24,"l":1},{"x":2.95,"y":3.24,"y2":4.12,"l":2},{"x":2.95,"y":4.12,"y2":5.39,"l":3},{"x":2.95,"y":5.39,"y2":5.74,"l":4},{"x":2.95,"y":5.74,"y2":10.62,"l":3},{"x":2.95,"y":10.62,"y2":12.55,"l":4},{"x":2.95,"y":12.55,"y2":13.53,"l":5},{"x":2.95,"y":13.53,"y2":14,"l":6},{"x":2.95,"y":14,"y2":14.75,"l":7},{"x":2.95,"y":14.75,"y2":15.57,"l":8},{"x":2.95,"y":15.57,"y2":15.88,"l":9},{"x":2.95,"y":15.88,"y2":16.27,"l":7},{"x":2.95,"y":16.27,"y2":16.55,"l":6},{"x":2.95,"y":16.55,"y2":16.9,"l":5},{"x":2.95,"y":16.9,"y2":17.63,"l":3},{"x":2.95,"y":17.63,"y2":17.99,"l":2},{"x":2.95,"y":17.99,"y2":18.26,"l":1},
{"x":3.05,"y":0,"y2":1,"l":3},{"x":3.05,"y":1,"y2":2.52,"l":4},{"x":3.05,"y":2.52,"y2":3.75,"l":5},{"x":3.05,"y":3.75,"y2":4.12,"l":6},{"x":3.05,"y":4.12,"y2":8.14,"l":7},{"x":3.05,"y":8.14,"y2":8.86,"l":8},{"x":3.05,"y":8.86,"y2":9.53,"l":9},{"x":3.05,"y":9.53,"y2":10.01,"l":10},{"x":3.05,"y":10.01,"y2":10.86,"l":11},{"x":3.05,"y":10.86,"y2":11.04,"l":12},{"x":3.05,"y":11.04,"y2":11.58,"l":11},{"x":3.05,"y":11.58,"y2":12.13,"l":10},{"x":3.05,"y":12.13,"y2":13.16,"l":8},{"x":3.05,"y":13.16,"y2":13.52,"l":9},{"x":3.05,"y":13.52,"y2":14,"l":10},{"x":3.05,"y":14,"y2":14.37,"l":11},{"x":3.05,"y":14.37,"y2":14.73,"l":9},{"x":3.05,"y":14.73,"y2":15.39,"l":10},{"x":3.05,"y":15.39,"y2":15.88,"l":8},{"x":3.05,"y":15.88,"y2":16.24,"l":7},{"x":3.05,"y":16.24,"y2":16.54,"l":6},{"x":3.05,"y":16.54,"y2":16.84,"l":5},{"x":3.05,"y":16.84,"y2":17.03,"l":4},{"x":3.05,"y":17.03,"y2":17.63,"l":3},{"x":3.05,"y":17.63,"y2":17.99,"l":2},
{"x":3.15,"y":0,"y2":0.16,"l":6},{"x":3.15,"y":0.16,"y2":2,"l":7},{"x":3.15,"y":2,"y2":3.48,"l":8},{"x":3.15,"y":3.48,"y2":4.23,"l":9},{"x":3.15,"y":4.23,"y2":5.11,"l":10},{"x":3.15,"y":5.11,"y2":6.02,"l":11},{"x":3.15,"y":6.02,"y2":6.87,"l":12},{"x":3.15,"y":6.87,"y2":7.5,"l":13},{"x":3.15,"y":7.5,"y2":8.26,"l":14},{"x":3.15,"y":8.26,"y2":8.62,"l":15},{"x":3.15,"y":8.62,"y2":10.25,"l":16},{"x":3.15,"y":10.25,"y2":11.1,"l":15},{"x":3.15,"y":11.1,"y2":11.64,"l":14},{"x":3.15,"y":11.64,"y2":12.37,"l":13},{"x":3.15,"y":12.37,"y2":12.61,"l":12},{"x":3.15,"y":12.61,"y2":13.13,"l":11},{"x":3.15,"y":13.13,"y2":14,"l":10},{"x":3.15,"y":14,"y2":14.37,"l":9},{"x":3.15,"y":14.37,"y2":14.73,"l":8},{"x":3.15,"y":14.73,"y2":14.97,"l":7},{"x":3.15,"y":14.97,"y2":15.27,"l":6},{"x":3.15,"y":15.27,"y2":15.88,"l":5},{"x":3.15,"y":15.88,"y2":16.12,"l":4},{"x":3.15,"y":16.12,"y2":16.63,"l":3},{"x":3.15,"y":16.63,"y2":17.12,"l":2},{"x":3.15,"y":17.12,"y2":17.51,"l":1},
{"x":3.25,"y":0,"y2":1.87,"l":9},{"x":3.25,"y":1.87,"y2":3.46,"l":10},{"x":3.25,"y":3.46,"y2":4.63,"l":11},{"x":3.25,"y":4.63,"y2":6.26,"l":12},{"x":3.25,"y":6.26,"y2":6.5,"l":13},{"x":3.25,"y":6.5,"y2":7.96,"l":14},{"x":3.25,"y":7.96,"y2":8.26,"l":13},{"x":3.25,"y":8.26,"y2":8.62,"l":12},{"x":3.25,"y":8.62,"y2":9.4,"l":11},{"x":3.25,"y":9.4,"y2":10.2,"l":10},{"x":3.25,"y":10.2,"y2":10.6,"l":9},{"x":3.25,"y":10.6,"y2":12,"l":10},{"x":3.25,"y":12,"y2":13.03,"l":9},{"x":3.25,"y":13.03,"y2":13.4,"l":8},{"x":3.25,"y":13.4,"y2":13.9,"l":7},{"x":3.25,"y":13.9,"y2":14.2,"l":6},{"x":3.25,"y":14.2,"y2":14.5,"l":5},{"x":3.25,"y":14.5,"y2":15.27,"l":4},{"x":3.25,"y":15.27,"y2":15.76,"l":3},{"x":3.25,"y":15.76,"y2":16.36,"l":2},{"x":3.25,"y":16.36,"y2":17,"l":1},
{"x":3.35,"y":0,"y2":3.48,"l":9},{"x":3.35,"y":3.48,"y2":4.15,"l":8},{"x":3.35,"y":4.15,"y2":4.51,"l":7},{"x":3.35,"y":4.51,"y2":6.08,"l":6},{"x":3.35,"y":6.08,"y2":7.9,"l":5},{"x":3.35,"y":7.9,"y2":12,"l":4},{"x":3.35,"y":12,"y2":12.92,"l":5},{"x":3.35,"y":12.92,"y2":13.64,"l":4},{"x":3.35,"y":13.64,"y2":14.12,"l":3},{"x":3.35,"y":14.12,"y2":16.12,"l":2},
{"x":3.45,"y":0,"y2":1.39,"l":6},{"x":3.45,"y":1.39,"y2":1.49,"l":7},{"x":3.45,"y":1.49,"y2":2.64,"l":6},{"x":3.45,"y":2.64,"y2":3.36,"l":5},{"x":3.45,"y":3.36,"y2":4.27,"l":4},{"x":3.45,"y":4.27,"y2":5.36,"l":3},{"x":3.45,"y":5.36,"y2":7,"l":2},{"x":3.45,"y":7.23,"y2":12.39,"l":1},{"x":3.45,"y":12.39,"y2":13.13,"l":2},{"x":3.45,"y":13.13,"y2":14.24,"l":1},
{"x":3.55,"y":0,"y2":1.43,"l":4},{"x":3.55,"y":1.43,"y2":3.12,"l":3},{"x":3.55,"y":3.12,"y2":4.12,"l":2},{"x":3.55,"y":4.12,"y2":6.26,"l":1},{"x":3.55,"y":6.38,"y2":6.5,"l":1},
{"x":3.65,"y":0,"y2":2,"l":2},{"x":3.65,"y":2.25,"y2":4.63,"l":1},{"x":3.75,"y":0.13,"y2":3.12,"l":1},{"x":3.85,"y":0,"y2":0.12,"l":1}],
"h":[{"x":2.35,"y":16.03,"y2":16.14,"l":1},{"x":2.45,"y":16.1,"y2":16.25,"l":1},{"x":2.45,"y":16.55,"y2":16.64,"l":1},{"x":2.55,"y":13.53,"y2":13.89,"l":1},{"x":2.55,"y":14.49,"y2":15.24,"l":1},{"x":2.55,"y":16.87,"y2":17.26,"l":1},{"x":2.65,"y":12.88,"y2":15.65,"l":1},{"x":2.65,"y":16.17,"y2":16.6,"l":1},
{"x":2.75,"y":10.63,"y2":10.89,"l":1},{"x":2.75,"y":12.11,"y2":14.1,"l":1},{"x":2.75,"y":14.68,"y2":15.27,"l":2},{"x":2.75,"y":15.27,"y2":15.97,"l":1},{"x":2.75,"y":16.17,"y2":16.6,"l":2},{"x":2.75,"y":16.6,"y2":17.52,"l":1},
{"x":2.85,"y":9.54,"y2":10.37,"l":1},{"x":2.85,"y":11.4,"y2":13.27,"l":1},{"x":2.85,"y":13.27,"y2":13.98,"l":2},{"x":2.85,"y":13.98,"y2":14.88,"l":3},{"x":2.85,"y":14.88,"y2":16.55,"l":2},{"x":2.85,"y":16.55,"y2":17.9,"l":1},
{"x":2.95,"y":8.25,"y2":8.64,"l":1},{"x":2.95,"y":8.64,"y2":8.96,"l":2},{"x":2.95,"y":8.96,"y2":9.99,"l":3},{"x":2.95,"y":9.99,"y2":10.95,"l":4},{"x":2.95,"y":10.95,"y2":12.37,"l":5},{"x":2.95,"y":12.37,"y2":13.66,"l":4},{"x":2.95,"y":13.66,"y2":14.49,"l":5},{"x":2.95,"y":14.49,"y2":16.1,"l":3},{"x":2.95,"y":16.1,"y2":17,"l":2},{"x":2.95,"y":17,"y2":17.39,"l":1},
{"x":3.05,"y":7.6,"y2":8,"l":1},{"x":3.05,"y":8,"y2":8.38,"l":2},{"x":3.05,"y":8.38,"y2":9.02,"l":3},{"x":3.05,"y":9.02,"y2":9.99,"l":4},{"x":3.05,"y":9.99,"y2":12.63,"l":5},{"x":3.05,"y":12.63,"y2":13.72,"l":6},{"x":3.05,"y":13.72,"y2":14.23,"l":5},{"x":3.05,"y":14.23,"y2":14.75,"l":4},{"x":3.05,"y":14.75,"y2":16.87,"l":3},{"x":3.05,"y":16.87,"y2":17.26,"l":2},{"x":3.05,"y":17.26,"y2":17.4,"l":1},
{"x":3.15,"y":6.45,"y2":7.28,"l":2},{"x":3.15,"y":7.28,"y2":8,"l":3},{"x":3.15,"y":8,"y2":8.5,"l":4},{"x":3.15,"y":8.5,"y2":9.67,"l":5},{"x":3.15,"y":9.67,"y2":10.18,"l":6},{"x":3.15,"y":10.18,"y2":11.2,"l":8},{"x":3.15,"y":11.2,"y2":11.6,"l":7},{"x":3.15,"y":11.6,"y2":13.2,"l":6},{"x":3.15,"y":13.2,"y2":13.37,"l":8},{"x":3.15,"y":13.37,"y2":13.65,"l":6},{"x":3.15,"y":13.65,"y2":14.04,"l":5},{"x":3.15,"y":14.04,"y2":14.94,"l":4},{"x":3.15,"y":14.94,"y2":15.59,"l":3},{"x":3.15,"y":15.59,"y2":16.6,"l":2},{"x":3.15,"y":16.6,"y2":16.87,"l":1},
{"x":3.25,"y":5.39,"y2":5.8,"l":1},{"x":3.25,"y":5.8,"y2":6.51,"l":2},{"x":3.25,"y":6.51,"y2":6.96,"l":3},{"x":3.25,"y":6.96,"y2":7.54,"l":5},{"x":3.25,"y":7.54,"y2":7.87,"l":6},{"x":3.25,"y":7.87,"y2":8.2,"l":7},{"x":3.25,"y":8.2,"y2":8.89,"l":9},{"x":3.25,"y":8.89,"y2":9.6,"l":10},{"x":3.25,"y":9.6,"y2":10.18,"l":11},{"x":3.25,"y":10.18,"y2":10.95,"l":10},{"x":3.25,"y":10.95,"y2":11.47,"l":9},{"x":3.25,"y":11.47,"y2":11.66,"l":8},{"x":3.25,"y":11.66,"y2":12.37,"l":7},{"x":3.25,"y":12.37,"y2":13.27,"l":6},{"x":3.25,"y":13.27,"y2":13.78,"l":5},{"x":3.25,"y":13.78,"y2":14.68,"l":4},{"x":3.25,"y":14.68,"y2":16.1,"l":3},{"x":3.25,"y":16.1,"y2":16.75,"l":2},{"x":3.25,"y":16.75,"y2":17.26,"l":1},
{"x":3.35,"y":3.5,"y2":5.03,"l":2},{"x":3.35,"y":5.03,"y2":5.42,"l":3},{"x":3.35,"y":5.42,"y2":5.87,"l":5},{"x":3.35,"y":5.87,"y2":6.13,"l":7},{"x":3.35,"y":6.13,"y2":6.38,"l":8},{"x":3.35,"y":6.38,"y2":6.77,"l":10},{"x":3.35,"y":6.77,"y2":7.03,"l":11},{"x":3.35,"y":7.03,"y2":7.86,"l":12},{"x":3.35,"y":7.86,"y2":9.6,"l":13},{"x":3.35,"y":9.6,"y2":10.18,"l":11},{"x":3.35,"y":10.18,"y2":10.95,"l":10},{"x":3.35,"y":10.95,"y2":11.47,"l":9},{"x":3.35,"y":11.47,"y2":12.5,"l":8},{"x":3.35,"y":12.5,"y2":13,"l":7},{"x":3.35,"y":13,"y2":13.3,"l":6},{"x":3.35,"y":13.3,"y2":13.8,"l":5},{"x":3.35,"y":13.8,"y2":14.7,"l":4},{"x":3.35,"y":14.7,"y2":16.1,"l":3},{"x":3.35,"y":16.1,"y2":16.6,"l":2},{"x":3.35,"y":16.6,"y2":17.5,"l":1},
{"x":3.45,"y":0,"y2":1.17,"l":1},{"x":3.45,"y":1.17,"y2":2.46,"l":2},{"x":3.45,"y":2.46,"y2":3.38,"l":3},{"x":3.45,"y":3.38,"y2":3.87,"l":4},{"x":3.45,"y":3.87,"y2":4.3,"l":5},{"x":3.45,"y":4.3,"y2":4.77,"l":7},{"x":3.45,"y":4.77,"y2":5.74,"l":10},{"x":3.45,"y":5.74,"y2":6.83,"l":14},{"x":3.45,"y":6.83,"y2":7.86,"l":15},{"x":3.45,"y":7.86,"y2":9.02,"l":14},{"x":3.45,"y":9.02,"y2":9.6,"l":13},{"x":3.45,"y":9.6,"y2":10.1,"l":12},{"x":3.45,"y":10.1,"y2":10.7,"l":11},{"x":3.45,"y":10.7,"y2":11.4,"l":10},{"x":3.45,"y":11.4,"y2":11.7,"l":9},{"x":3.45,"y":11.7,"y2":12.6,"l":8},{"x":3.45,"y":12.6,"y2":12.9,"l":7},{"x":3.45,"y":12.9,"y2":13.5,"l":6},{"x":3.45,"y":13.5,"y2":14,"l":5},{"x":3.45,"y":14,"y2":15,"l":4},{"x":3.45,"y":15,"y2":16,"l":3},{"x":3.45,"y":16,"y2":16.5,"l":2},{"x":3.45,"y":16.5,"y2":17.3,"l":1},
{"x":3.55,"y":0,"y2":0.9,"l":4},{"x":3.55,"y":0.9,"y2":1.88,"l":5},{"x":3.55,"y":1.88,"y2":2.52,"l":6},{"x":3.55,"y":2.52,"y2":3.23,"l":7},{"x":3.55,"y":3.23,"y2":3.62,"l":8},{"x":3.55,"y":3.62,"y2":4,"l":9},{"x":3.55,"y":4,"y2":4.52,"l":10},{"x":3.55,"y":4.52,"y2":4.9,"l":11},{"x":3.55,"y":4.9,"y2":5.16,"l":13},{"x":3.55,"y":5.16,"y2":5.74,"l":15},{"x":3.55,"y":5.74,"y2":6.13,"l":16},{"x":3.55,"y":6.13,"y2":6.51,"l":15},{"x":3.55,"y":6.51,"y2":7.48,"l":16},{"x":3.55,"y":7.48,"y2":7.73,"l":15},{"x":3.55,"y":7.73,"y2":8.9,"l":14},{"x":3.55,"y":8.9,"y2":9.6,"l":13},{"x":3.55,"y":9.6,"y2":10.1,"l":12},{"x":3.55,"y":10.1,"y2":10.8,"l":11},{"x":3.55,"y":10.8,"y2":11.47,"l":10},{"x":3.55,"y":11.47,"y2":12.43,"l":8},{"x":3.55,"y":12.43,"y2":12.88,"l":7},{"x":3.55,"y":12.88,"y2":13.78,"l":6},{"x":3.55,"y":13.78,"y2":14.2,"l":5},{"x":3.55,"y":14.2,"y2":15.5,"l":4},{"x":3.55,"y":15.5,"y2":16.6,"l":3},{"x":3.55,"y":16.6,"y2":17.3,"l":1},
{"x":3.65,"y":0,"y2":0.4,"l":8},{"x":3.65,"y":0.4,"y2":0.98,"l":9},{"x":3.65,"y":0.98,"y2":2.46,"l":10},{"x":3.65,"y":2.46,"y2":3.23,"l":12},{"x":3.65,"y":3.23,"y2":3.62,"l":13},{"x":3.65,"y":3.62,"y2":4.65,"l":14},{"x":3.65,"y":4.65,"y2":5.16,"l":15},{"x":3.65,"y":5.16,"y2":6.5,"l":14},{"x":3.65,"y":6.5,"y2":8.9,"l":13},{"x":3.65,"y":8.9,"y2":9.4,"l":12},{"x":3.65,"y":9.4,"y2":10.2,"l":11},{"x":3.65,"y":10.2,"y2":10.95,"l":10},{"x":3.65,"y":10.95,"y2":11.5,"l":8},{"x":3.65,"y":11.5,"y2":11.9,"l":7},{"x":3.65,"y":11.9,"y2":12.6,"l":6},{"x":3.65,"y":12.6,"y2":13.5,"l":5},{"x":3.65,"y":13.5,"y2":15,"l":4},{"x":3.65,"y":15,"y2":16.1,"l":3},{"x":3.65,"y":16.1,"y2":16.9,"l":2},{"x":3.65,"y":16.9,"y2":17.2,"l":1},
{"x":3.75,"y":0,"y2":1.17,"l":12},{"x":3.75,"y":1.17,"y2":1.88,"l":13},{"x":3.75,"y":1.88,"y2":2.84,"l":14},{"x":3.75,"y":2.84,"y2":3.68,"l":15},{"x":3.75,"y":3.68,"y2":4.26,"l":14},{"x":3.75,"y":4.26,"y2":4.65,"l":12},{"x":3.75,"y":4.65,"y2":5.55,"l":13},{"x":3.75,"y":5.55,"y2":6,"l":12},{"x":3.75,"y":6,"y2":6.5,"l":10},{"x":3.75,"y":6.5,"y2":7.35,"l":9},{"x":3.75,"y":7.35,"y2":7.86,"l":7},{"x":3.75,"y":7.86,"y2":8.5,"l":6},{"x":3.75,"y":8.5,"y2":9.28,"l":5},{"x":3.75,"y":9.28,"y2":10.18,"l":6},{"x":3.75,"y":10.18,"y2":10.7,"l":7},{"x":3.75,"y":10.7,"y2":11.5,"l":6},{"x":3.75,"y":11.5,"y2":12,"l":5},{"x":3.75,"y":12,"y2":12.8,"l":6},{"x":3.75,"y":12.8,"y2":13.8,"l":5},{"x":3.75,"y":13.8,"y2":14.6,"l":4},{"x":3.75,"y":14.6,"y2":15.6,"l":3},{"x":3.75,"y":15.6,"y2":16.3,"l":2},{"x":3.75,"y":16.3,"y2":16.9,"l":1},
{"x":3.85,"y":0,"y2":0.25,"l":15},{"x":3.85,"y":0.25,"y2":1,"l":16},{"x":3.85,"y":1,"y2":2.6,"l":14},{"x":3.85,"y":2.6,"y2":3.2,"l":15},{"x":3.85,"y":3.2,"y2":3.9,"l":13},{"x":3.85,"y":3.9,"y2":4.8,"l":12},{"x":3.85,"y":4.8,"y2":5.2,"l":11},{"x":3.85,"y":5.2,"y2":5.9,"l":10},{"x":3.85,"y":5.9,"y2":6.2,"l":8},{"x":3.85,"y":6.2,"y2":7.4,"l":6},{"x":3.85,"y":7.4,"y2":8.4,"l":5},{"x":3.85,"y":8.4,"y2":8.8,"l":4},{"x":3.85,"y":8.8,"y2":10.2,"l":3},{"x":3.85,"y":10.2,"y2":11.4,"l":4},{"x":3.85,"y":11.4,"y2":15.6,"l":3},{"x":3.85,"y":15.6,"y2":16.1,"l":2},{"x":3.85,"y":16.1,"y2":16.4,"l":1},
{"x":3.95,"y":0,"y2":1,"l":13},{"x":3.95,"y":1,"y2":1.9,"l":14},{"x":3.95,"y":1.9,"y2":2.8,"l":13},{"x":3.95,"y":2.8,"y2":3.9,"l":11},{"x":3.95,"y":3.9,"y2":4.3,"l":10},{"x":3.95,"y":4.3,"y2":4.7,"l":9},{"x":3.95,"y":4.7,"y2":5.2,"l":7},{"x":3.95,"y":5.2,"y2":6.3,"l":6},{"x":3.95,"y":6.3,"y2":6.8,"l":4},{"x":3.95,"y":6.8,"y2":8,"l":3},{"x":3.95,"y":8,"y2":8.5,"l":4},{"x":3.95,"y":8.5,"y2":13,"l":3},{"x":3.95,"y":13,"y2":14.5,"l":2},{"x":3.95,"y":14.5,"y2":15.85,"l":1},
{"x":4.05,"y":0,"y2":1.4,"l":11},{"x":4.05,"y":1.4,"y2":3.6,"l":10},{"x":4.05,"y":3.6,"y2":4.65,"l":7},{"x":4.05,"y":4.65,"y2":5.15,"l":6},{"x":4.05,"y":5.15,"y2":6.2,"l":5},{"x":4.05,"y":6.2,"y2":9.6,"l":3},{"x":4.05,"y":9.6,"y2":12.7,"l":2},{"x":4.05,"y":12.7,"y2":15.4,"l":1},
{"x":4.15,"y":0,"y2":0.7,"l":9},{"x":4.15,"y":0.7,"y2":1.5,"l":8},{"x":4.15,"y":1.5,"y2":2.4,"l":9},{"x":4.15,"y":2.4,"y2":3.9,"l":6},{"x":4.15,"y":3.9,"y2":5.8,"l":5},{"x":4.15,"y":5.8,"y2":6.2,"l":4},{"x":4.15,"y":6.2,"y2":7,"l":3},{"x":4.15,"y":7,"y2":9,"l":2},{"x":4.15,"y":9,"y2":14.1,"l":1},
{"x":4.25,"y":0,"y2":0.85,"l":7},{"x":4.25,"y":0.85,"y2":1.9,"l":6},{"x":4.25,"y":1.9,"y2":5.2,"l":5},{"x":4.25,"y":5.2,"y2":6.2,"l":3},{"x":4.25,"y":6.2,"y2":8.5,"l":2},{"x":4.25,"y":8.5,"y2":11.4,"l":1},
{"x":4.35,"y":0,"y2":0.45,"l":4},{"x":4.35,"y":0.45,"y2":1.7,"l":5},{"x":4.35,"y":1.7,"y2":3.3,"l":4},{"x":4.35,"y":3.3,"y2":5,"l":3},{"x":4.35,"y":5,"y2":6.8,"l":2},{"x":4.35,"y":6.8,"y2":10.7,"l":1},
{"x":4.45,"y":0,"y2":2.5,"l":4},{"x":4.45,"y":2.5,"y2":2.8,"l":5},{"x":4.45,"y":2.8,"y2":3.7,"l":4},{"x":4.45,"y":3.7,"y2":5,"l":3},{"x":4.45,"y":5,"y2":6,"l":2},{"x":4.45,"y":6,"y2":9.8,"l":1},
{"x":4.55,"y":0,"y2":1.6,"l":3},{"x":4.55,"y":1.6,"y2":4.5,"l":2},{"x":4.55,"y":4.5,"y2":7.4,"l":1},{"x":4.55,"y":9.3,"y2":9.5,"l":1},{"x":4.65,"y":0,"y2":4.7,"l":2},{"x":4.65,"y":4.7,"y2":7.1,"l":1},{"x":4.75,"y":0,"y2":4.3,"l":2},{"x":4.75,"y":4.3,"y2":6.5,"l":1},{"x":4.85,"y":0,"y2":3.5,"l":1},{"x":4.85,"y":3.5,"y2":4.6,"l":2},{"x":4.85,"y":4.6,"y2":6.4,"l":1},{"x":4.95,"y":0,"y2":3.6,"l":2},{"x":4.95,"y":3.6,"y2":6.4,"l":1},
{"x":5.05,"y":0,"y2":1.9,"l":2},{"x":5.05,"y":1.9,"y2":3,"l":1},{"x":5.05,"y":3.1,"y2":4.4,"l":1},{"x":5.05,"y":4.5,"y2":5.8,"l":1},{"x":5.15,"y":3.1,"y2":3.4,"l":1},{"x":5.15,"y":4.9,"y2":5.2,"l":1},{"x":5.15,"y":6.5,"y2":6.6,"l":1},{"x":5.25,"y":3.1,"y2":3.3,"l":1},{"x":5.35,"y":0,"y2":2.1,"l":1},{"x":5.35,"y":2.6,"y2":3.1,"l":1},{"x":5.35,"y":3.4,"y2":4.2,"l":1},{"x":5.35,"y":4.4,"y2":4.5,"l":1},{"x":5.45,"y":2.5,"y2":2.6,"l":1},{"x":5.45,"y":3.3,"y2":3.6,"l":1},{"x":5.55,"y":0,"y2":0.05,"l":1},{"x":5.55,"y":1.55,"y2":1.65,"l":1},{"x":5.55,"y":3.1,"y2":3.2,"l":1},{"x":5.55,"y":3.6,"y2":3.7,"l":1}],
"la":[{"s":"a","x":3.074,"y":2.75},{"s":"a","x":3.18,"y":2.63},{"s":"a","x":3.234,"y":2.37},{"s":"a","x":3.27,"y":1.96},{"s":"a","x":3.293,"y":1.5},{"s":"a","x":3.306,"y":0.68},{"s":"a","x":3.313,"y":0.1},{"s":"b","x":3.263,"y":2.74},{"s":"b","x":3.3,"y":2.34},{"s":"b","x":3.31,"y":1.99},{"s":"b","x":3.333,"y":1.55},{"s":"b","x":3.344,"y":0.97},{"s":"b","x":3.354,"y":0.16},{"s":"c","x":3.322,"y":2.72},{"s":"c","x":3.35,"y":2.34},{"s":"c","x":3.365,"y":1.96},{"s":"c","x":3.38,"y":1.4},{"s":"c","x":3.394,"y":0.68},{"s":"c","x":3.4,"y":0.28}],
"lb":[{"s":"a","x":3.077,"y":2.75},{"s":"a","x":3.24,"y":2.62},{"s":"a","x":3.35,"y":2.45},{"s":"a","x":3.45,"y":2.19},{"s":"a","x":3.514,"y":1.78},{"s":"a","x":3.525,"y":1.26},{"s":"a","x":3.536,"y":0.1},{"s":"b","x":3.42,"y":2.74},{"s":"b","x":3.514,"y":2.39},{"s":"b","x":3.58,"y":2.07},{"s":"b","x":3.628,"y":1.72},{"s":"b","x":3.637,"y":0.97},{"s":"b","x":3.65,"y":0.19},{"s":"c","x":3.558,"y":2.72},{"s":"c","x":3.624,"y":2.39},{"s":"c","x":3.674,"y":2.02},{"s":"c","x":3.705,"y":1.65},{"s":"c","x":3.72,"y":1.26},{"s":"c","x":3.73,"y":0.68},{"s":"c","x":3.737,"y":0.16}],
"lc":[{"s":"a","x":2.47,"y":6.5},{"s":"a","x":2.644,"y":6.38},{"s":"a","x":2.776,"y":6.12},{"s":"a","x":2.88,"y":5.6},{"s":"a","x":2.953,"y":5.04},{"s":"a","x":3.012,"y":4.4},{"s":"a","x":3.1,"y":3.6},{"s":"a","x":3.174,"y":2.88},{"s":"a","x":3.21,"y":2.24},{"s":"a","x":3.232,"y":1.2},{"s":"a","x":3.25,"y":0.08},{"s":"b","x":2.974,"y":6.5},{"s":"b","x":3.04,"y":6.08},{"s":"b","x":3.1,"y":5.36},{"s":"b","x":3.16,"y":4.4},{"s":"b","x":3.232,"y":3.44},{"s":"b","x":3.29,"y":2.64},{"s":"b","x":3.335,"y":1.6},{"s":"b","x":3.365,"y":0.16},{"s":"c","x":3.165,"y":6.49},{"s":"c","x":3.2,"y":5.92},{"s":"c","x":3.247,"y":4.96},{"s":"c","x":3.285,"y":4.08},{"s":"c","x":3.35,"y":3.28},{"s":"c","x":3.41,"y":2.48},{"s":"c","x":3.447,"y":1.6},{"s":"c","x":3.474,"y":0.12}],
"ld":[{"s":"a","x":2,"y":11.47},{"s":"a","x":2.27,"y":11.33},{"s":"a","x":2.5,"y":11.11},{"s":"a","x":2.67,"y":10.67},{"s":"a","x":2.8,"y":10},{"s":"a","x":2.89,"y":9.12},{"s":"a","x":2.94,"y":8},{"s":"a","x":2.97,"y":6.9},{"s":"a","x":3,"y":5.23},{"s":"a","x":3.07,"y":4.13},{"s":"a","x":3.15,"y":3.13},{"s":"a","x":3.2,"y":1.9},{"s":"a","x":3.235,"y":0.13},{"s":"b","x":2.866,"y":11.48},{"s":"b","x":2.94,"y":10.89},{"s":"b","x":3.007,"y":9.89},{"s":"b","x":3.057,"y":8.56},{"s":"b","x":3.114,"y":7},{"s":"b","x":3.157,"y":5.23},{"s":"b","x":3.224,"y":3.9},{"s":"b","x":3.29,"y":2.8},{"s":"b","x":3.335,"y":1.91},{"s":"b","x":3.36,"y":0.24},{"s":"c","x":3.09,"y":11.48},{"s":"c","x":3.134,"y":10.23},{"s":"c","x":3.19,"y":8.56},{"s":"c","x":3.258,"y":6.9},{"s":"c","x":3.325,"y":5.23},{"s":"c","x":3.392,"y":3.9},{"s":"c","x":3.44,"y":2.68},{"s":"c","x":3.492,"y":1.35},{"s":"c","x":3.516,"y":0.19}],
"le":[{"s":"a","x":2,"y":12.11},{"s":"a","x":2.63,"y":12},{"s":"a","x":2.86,"y":11.76},{"s":"a","x":3.01,"y":11.38},{"s":"a","x":3.126,"y":10.68},{"s":"a","x":3.214,"y":9.56},{"s":"a","x":3.258,"y":8.62},{"s":"a","x":3.317,"y":7.33},{"s":"a","x":3.375,"y":6.27},{"s":"a","x":3.44,"y":4.86},{"s":"a","x":3.507,"y":3.68},{"s":"a","x":3.566,"y":2.15},{"s":"a","x":3.61,"y":0.98},{"s":"a","x":3.63,"y":0.09},{"s":"b","x":3.243,"y":12.11},{"s":"b","x":3.317,"y":11.09},{"s":"b","x":3.36,"y":9.8},{"s":"b","x":3.405,"y":8.38},{"s":"b","x":3.463,"y":6.86},{"s":"b","x":3.55,"y":5.33},{"s":"b","x":3.654,"y":3.92},{"s":"b","x":3.727,"y":2.15},{"s":"b","x":3.77,"y":0.09},{"s":"c","x":3.484,"y":12.09},{"s":"c","x":3.522,"y":11.2},{"s":"c","x":3.55,"y":9.2},{"s":"c","x":3.595,"y":7.56},{"s":"c","x":3.698,"y":5.91},{"s":"c","x":3.815,"y":4.03},{"s":"c","x":3.889,"y":2.15},{"s":"c","x":3.938,"y":0.09}],
"lf":[{"s":"a","x":2,"y":14.9},{"s":"a","x":2.41,"y":14.62},{"s":"a","x":2.595,"y":14.31},{"s":"a","x":2.74,"y":13.8},{"s":"a","x":2.87,"y":13},{"s":"a","x":2.945,"y":12.19},{"s":"a","x":2.99,"y":11.17},{"s":"a","x":3.02,"y":9.57},{"s":"a","x":3.05,"y":7.97},{"s":"a","x":3.055,"y":6.14},{"s":"a","x":3.077,"y":4.88},{"s":"a","x":3.13,"y":3.74},{"s":"a","x":3.186,"y":2.48},{"s":"a","x":3.208,"y":1.22},{"s":"a","x":3.23,"y":0.14},{"s":"b","x":2.78,"y":15},{"s":"b","x":2.91,"y":14.14},{"s":"b","x":3,"y":13.34},{"s":"b","x":3.077,"y":12.54},{"s":"b","x":3.09,"y":10.94},{"s":"b","x":3.11,"y":9.57},{"s":"b","x":3.153,"y":7.74},{"s":"b","x":3.186,"y":5.79},{"s":"b","x":3.23,"y":4.42},{"s":"b","x":3.306,"y":2.94},{"s":"b","x":3.35,"y":1.22},{"s":"b","x":3.368,"y":0.14},{"s":"c","x":3.004,"y":15},{"s":"c","x":3.11,"y":14.08},{"s":"c","x":3.208,"y":12.77},{"s":"c","x":3.197,"y":10.94},{"s":"c","x":3.214,"y":8.88},{"s":"c","x":3.274,"y":6.59},{"s":"c","x":3.328,"y":4.77},{"s":"c","x":3.416,"y":3.28},{"s":"c","x":3.48,"y":1.79},{"s":"c","x":3.514,"y":0.19}],
"lg":[{"s":"a","x":2,"y":16.8},{"s":"a","x":2.27,"y":16.66},{"s":"a","x":2.51,"y":16.36},{"s":"a","x":2.654,"y":15.96},{"s":"a","x":2.74,"y":15.6},{"s":"a","x":2.83,"y":14.97},{"s":"a","x":2.917,"y":14.06},{"s":"a","x":3.004,"y":13.03},{"s":"a","x":3.05,"y":12.19},{"s":"a","x":3.055,"y":11.34},{"s":"a","x":3.07,"y":9.77},{"s":"a","x":3.1,"y":8.56},{"s":"a","x":3.08,"y":6.75},{"s":"a","x":3.077,"y":5.18},{"s":"a","x":3.103,"y":4.21},{"s":"a","x":3.147,"y":3},{"s":"a","x":3.18,"y":1.55},{"s":"a","x":3.208,"y":0.12},{"s":"b","x":2.7,"y":16.87},{"s":"b","x":2.796,"y":16.54},{"s":"b","x":2.928,"y":15.76},{"s":"b","x":3.026,"y":14.73},{"s":"b","x":3.114,"y":13.64},{"s":"b","x":3.158,"y":12.43},{"s":"b","x":3.142,"y":10.62},{"s":"b","x":3.153,"y":8.92},{"s":"b","x":3.18,"y":7},{"s":"b","x":3.2,"y":4.93},{"s":"b","x":3.256,"y":3.48},{"s":"b","x":3.3,"y":1.91},{"s":"b","x":3.337,"y":0.12},{"s":"c","x":2.91,"y":16.87},{"s":"c","x":3.026,"y":16.24},{"s":"c","x":3.103,"y":15.2},{"s":"c","x":3.212,"y":13.76},{"s":"c","x":3.256,"y":12.55},{"s":"c","x":3.228,"y":10.98},{"s":"c","x":3.256,"y":8.92},{"s":"c","x":3.278,"y":6.38},{"s":"c","x":3.32,"y":4.57},{"s":"c","x":3.398,"y":3.12},{"s":"c","x":3.442,"y":1.91},{"s":"c","x":3.475,"y":0.22}],
"lh":[{"s":"a","x":2.648,"y":11.4},{"s":"a","x":2.78,"y":11.18},{"s":"a","x":2.903,"y":11},{"s":"a","x":2.97,"y":10.63},{"s":"a","x":3.03,"y":10.5},{"s":"a","x":3.1,"y":10.1},{"s":"a","x":3.147,"y":9.73},{"s":"a","x":3.19,"y":9.54},{"s":"a","x":3.235,"y":9.02},{"s":"a","x":3.264,"y":8.76},{"s":"a","x":3.308,"y":8.19},{"s":"a","x":3.352,"y":7.6},{"s":"a","x":3.396,"y":7.09},{"s":"a","x":3.47,"y":6.51},{"s":"a","x":3.513,"y":6},{"s":"a","x":3.572,"y":5.35},{"s":"a","x":3.63,"y":4.65},{"s":"a","x":3.674,"y":4.13},{"s":"a","x":3.704,"y":3.36},{"s":"a","x":3.733,"y":2.46},{"s":"a","x":3.762,"y":1.56},{"s":"a","x":3.79,"y":1.17},{"s":"a","x":3.81,"y":0.14},{"s":"b","x":3.287,"y":11.38},{"s":"b","x":3.367,"y":10.44},{"s":"b","x":3.425,"y":9.54},{"s":"b","x":3.484,"y":8.76},{"s":"b","x":3.54,"y":8.06},{"s":"b","x":3.557,"y":7.48},{"s":"b","x":3.63,"y":6.77},{"s":"b","x":3.704,"y":5.93},{"s":"b","x":3.79,"y":5.16},{"s":"b","x":3.894,"y":3.87},{"s":"b","x":3.94,"y":2.46},{"s":"b","x":3.982,"y":1.17},{"s":"b","x":4.003,"y":0.14},{"s":"c","x":3.595,"y":11.38},{"s":"c","x":3.63,"y":10.44},{"s":"c","x":3.69,"y":9.54},{"s":"c","x":3.704,"y":8.64},{"s":"c","x":3.79,"y":7.48},{"s":"c","x":3.894,"y":6.7},{"s":"c","x":4.012,"y":6.06},{"s":"c","x":4.144,"y":5.03},{"s":"c","x":4.21,"y":4},{"s":"c","x":4.23,"y":2.84},{"s":"c","x":4.276,"y":1.17},{"s":"c","x":4.3,"y":0.17}]
},
"vconcat":[
{"bounds":"flush","spacing":985,"hconcat":[
{"bounds":"flush","spacing":37,"hconcat":[
{"width":593,"height":1150,"title":"(a) High-latitude shallow PS","encoding":{"x":{"field":"x","type":"quantitative","scale":{"domain":[2,6],"nice":false},"axis":{"values":[2,3,4,5,6],"gridOpacity":{"condition":{"test":"datum.value==6","value":0},"value":1},"title":null,"zindex":1}},"y":{"field":"y","type":"quantitative","scale":{"domain":[0,20],"nice":false},"axis":{"values":[0,3,6,9,12,15,18],"zindex":1,"title":"Height (km)","titleFontSize":70,"titleX":-138,"titleY":1186,"titleAngle":270,"titleAlign":"center","titleBaseline":"alphabetic"}}},
"layer":[{"data":{"name":"a"},"mark":{"type":"rect","width":14.9},"encoding":{"y2":{"field":"y2"},"color":{"field":"l","type":"ordinal","scale":{"domain":[0,1,2,3,4,5,6,7,8,9,10,11,12,13,14,15,16]},"legend":null}}},{"data":{"name":"la"},"mark":{"type":"line","strokeWidth":5,"color":"#000","clip":true},"encoding":{"detail":{"field":"s"},"order":{"field":"y","sort":"descending"},"strokeDash":{"field":"s","type":"nominal","scale":{"domain":["a","b","c"],"range":[[1,0],[22,8,5,8],[5,8]]},"legend":null}}}]},
{"width":45,"height":1150,"data":{"name":"c"},"mark":"rect","encoding":{"y":{"field":"lo","type":"quantitative","scale":{"domain":[0,17],"nice":false},"axis":{"orient":"right","values":[0,1.925,3.851,5.776,7.701,9.627,11.552,13.477,15.402],"labelExpr":"format(datum.value/1.9253*0.2,'.1f')","title":"Percentage (%)"}},"y2":{"field":"hi"},"color":{"field":"l","type":"ordinal","scale":{"domain":[0,1,2,3,4,5,6,7,8,9,10,11,12,13,14,15,16]},"legend":null}}}]},
{"bounds":"flush","spacing":37,"hconcat":[
{"width":593,"height":1150,"title":"(b) Subtropical shallow PS","encoding":{"x":{"field":"x","type":"quantitative","scale":{"domain":[2,6],"nice":false},"axis":{"values":[2,3,4,5,6],"gridOpacity":{"condition":{"test":"datum.value==6","value":0},"value":1},"title":null,"zindex":1}},"y":{"field":"y","type":"quantitative","scale":{"domain":[0,20],"nice":false},"axis":{"values":[0,3,6,9,12,15,18],"zindex":1,"title":")","titleFontSize":68,"titleX":1065,"titleY":2898,"titleAngle":0,"titleAlign":"left","titleBaseline":"alphabetic"}}},
"layer":[{"data":{"name":"b"},"mark":{"type":"rect","width":14.9},"encoding":{"y2":{"field":"y2"},"color":{"field":"l","type":"ordinal","scale":{"domain":[0,1,2,3,4,5,6,7,8,9,10,11,12,13,14,15,16]},"legend":null}}},{"data":{"name":"lb"},"mark":{"type":"line","strokeWidth":5,"color":"#000","clip":true},"encoding":{"detail":{"field":"s"},"order":{"field":"y","sort":"descending"},"strokeDash":{"field":"s","type":"nominal","scale":{"domain":["a","b","c"],"range":[[1,0],[22,8,5,8],[5,8]]},"legend":null}}}]},
{"width":45,"height":1150,"data":{"name":"c"},"mark":"rect","encoding":{"y":{"field":"lo","type":"quantitative","scale":{"domain":[0,17],"nice":false},"axis":{"orient":"right","values":[0,3.226,6.452,9.677,12.903,16.129],"labelExpr":"format(datum.value/3.2258*0.2,'.1f')","title":"Percentage (%)"}},"y2":{"field":"hi"},"color":{"field":"l","type":"ordinal","scale":{"domain":[0,1,2,3,4,5,6,7,8,9,10,11,12,13,14,15,16]},"legend":null}}}]},
{"bounds":"flush","spacing":37,"hconcat":[
{"width":593,"height":1150,"title":"(c)\u00a0\u00a0\u00a0\u00a0\u00a0\u00a0\u00a0Moderate PS","encoding":{"x":{"field":"x","type":"quantitative","scale":{"domain":[2,6],"nice":false},"axis":{"values":[2,3,4,5,6],"gridOpacity":{"condition":{"test":"datum.value==6","value":0},"value":1},"title":null,"zindex":1}},"y":{"field":"y","type":"quantitative","scale":{"domain":[0,20],"nice":false},"axis":{"values":[0,3,6,9,12,15,18],"zindex":1,"title":null}}},
"layer":[{"data":{"name":"cc"},"mark":{"type":"rect","width":14.9},"encoding":{"y2":{"field":"y2"},"color":{"field":"l","type":"ordinal","scale":{"domain":[0,1,2,3,4,5,6,7,8,9,10,11,12,13,14,15,16]},"legend":null}}},{"data":{"name":"lc"},"mark":{"type":"line","strokeWidth":5,"color":"#000","clip":true},"encoding":{"detail":{"field":"s"},"order":{"field":"y","sort":"descending"},"strokeDash":{"field":"s","type":"nominal","scale":{"domain":["a","b","c"],"range":[[1,0],[22,8,5,8],[5,8]]},"legend":null}}}]},
{"width":45,"height":1150,"data":{"name":"c"},"mark":"rect","encoding":{"y":{"field":"lo","type":"quantitative","scale":{"domain":[0,17],"nice":false},"axis":{"orient":"right","values":[0,1.919,3.837,5.756,7.675,9.594,11.512,13.431,15.35],"labelExpr":"format(datum.value/1.9187*0.05,'.2f')","title":"Percentage (%)"}},"y2":{"field":"hi"},"color":{"field":"l","type":"ordinal","scale":{"domain":[0,1,2,3,4,5,6,7,8,9,10,11,12,13,14,15,16]},"legend":null}}}]},
{"bounds":"flush","spacing":37,"hconcat":[
{"width":593,"height":1150,"title":"(d)\u00a0\u00a0\u00a0\u00a0\u00a0\u00a0\u00a0\u00a0\u00a0Deep PS","encoding":{"x":{"field":"x","type":"quantitative","scale":{"domain":[2,6],"nice":false},"axis":{"values":[2,3,4,5,6],"gridOpacity":{"condition":{"test":"datum.value==6","value":0},"value":1},"title":null,"zindex":1}},"y":{"field":"y","type":"quantitative","scale":{"domain":[0,20],"nice":false},"axis":{"values":[0,3,6,9,12,15,18],"zindex":1,"title":null}}},
"layer":[{"data":{"name":"d"},"mark":{"type":"rect","width":14.9},"encoding":{"y2":{"field":"y2"},"color":{"field":"l","type":"ordinal","scale":{"domain":[0,1,2,3,4,5,6,7,8,9,10,11,12,13,14,15,16]},"legend":null}}},{"data":{"name":"ld"},"mark":{"type":"line","strokeWidth":5,"color":"#000","clip":true},"encoding":{"detail":{"field":"s"},"order":{"field":"y","sort":"descending"},"strokeDash":{"field":"s","type":"nominal","scale":{"domain":["a","b","c"],"range":[[1,0],[22,8,5,8],[5,8]]},"legend":null}}}]},
{"width":45,"height":1150,"data":{"name":"c"},"mark":"rect","encoding":{"y":{"field":"lo","type":"quantitative","scale":{"domain":[0,17],"nice":false},"axis":{"orient":"right","values":[0,2.005,4.009,6.014,8.019,10.024,12.028,14.033,16.038],"labelExpr":"format(datum.value/2.0047*0.025,'.3f')","title":"Percentage (%)"}},"y2":{"field":"hi"},"color":{"field":"l","type":"ordinal","scale":{"domain":[0,1,2,3,4,5,6,7,8,9,10,11,12,13,14,15,16]},"legend":null}}}]}
]},
{"bounds":"flush","spacing":985,"hconcat":[
{"bounds":"flush","spacing":37,"hconcat":[
{"width":593,"height":1150,"title":"(e)\u00a0\u00a0\u00a0Extreme deep PS","encoding":{"x":{"field":"x","type":"quantitative","scale":{"domain":[2,6],"nice":false},"axis":{"values":[2,3,4,5,6],"gridOpacity":{"condition":{"test":"datum.value==6","value":0},"value":1},"zindex":1,"title":"Log","titleFontSize":68,"titleFontStyle":"italic","titleX":1463,"titleY":184,"titleAlign":"left","titleBaseline":"alphabetic"}},"y":{"field":"y","type":"quantitative","scale":{"domain":[0,20],"nice":false},"axis":{"values":[0,3,6,9,12,15,18],"zindex":1,"title":"(m","titleFontSize":68,"titleX":1723,"titleY":1334,"titleAngle":0,"titleAlign":"left","titleBaseline":"alphabetic"}}},
"layer":[{"data":{"name":"e"},"mark":{"type":"rect","width":14.9},"encoding":{"y2":{"field":"y2"},"color":{"field":"l","type":"ordinal","scale":{"domain":[0,1,2,3,4,5,6,7,8,9,10,11,12,13,14,15,16]},"legend":null}}},{"data":{"name":"le"},"mark":{"type":"line","strokeWidth":5,"color":"#000","clip":true},"encoding":{"detail":{"field":"s"},"order":{"field":"y","sort":"descending"},"strokeDash":{"field":"s","type":"nominal","scale":{"domain":["a","b","c"],"range":[[1,0],[22,8,5,8],[5,8]]},"legend":null}}}]},
{"width":45,"height":1150,"data":{"name":"c"},"mark":"rect","encoding":{"y":{"field":"lo","type":"quantitative","scale":{"domain":[0,17],"nice":false},"axis":{"orient":"right","values":[0,2.237,4.474,6.711,8.947,11.184,13.421,15.658],"labelExpr":"format(datum.value/2.2368*0.025,'.3f')","title":"Percentage (%)"}},"y2":{"field":"hi"},"color":{"field":"l","type":"ordinal","scale":{"domain":[0,1,2,3,4,5,6,7,8,9,10,11,12,13,14,15,16]},"legend":null}}}]},
{"bounds":"flush","spacing":37,"hconcat":[
{"width":593,"height":1150,"title":"(f)\u00a0\u00a0\u00a0\u00a0\u00a0\u00a0\u00a0\u00a0\u00a0\u00a0Strong PS","encoding":{"x":{"field":"x","type":"quantitative","scale":{"domain":[2,6],"nice":false},"axis":{"values":[2,3,4,5,6],"gridOpacity":{"condition":{"test":"datum.value==6","value":0},"value":1},"zindex":1,"title":"10","titleFontSize":49,"titleX":593,"titleY":192,"titleAlign":"left","titleBaseline":"alphabetic"}},"y":{"field":"y","type":"quantitative","scale":{"domain":[0,20],"nice":false},"axis":{"values":[0,3,6,9,12,15,18],"zindex":1,"title":"−3","titleFontSize":49,"titleX":819,"titleY":1309,"titleAngle":0,"titleAlign":"left","titleBaseline":"alphabetic"}}},
"layer":[{"data":{"name":"f"},"mark":{"type":"rect","width":14.9},"encoding":{"y2":{"field":"y2"},"color":{"field":"l","type":"ordinal","scale":{"domain":[0,1,2,3,4,5,6,7,8,9,10,11,12,13,14,15,16]},"legend":null}}},{"data":{"name":"lf"},"mark":{"type":"line","strokeWidth":5,"color":"#000","clip":true},"encoding":{"detail":{"field":"s"},"order":{"field":"y","sort":"descending"},"strokeDash":{"field":"s","type":"nominal","scale":{"domain":["a","b","c"],"range":[[1,0],[22,8,5,8],[5,8]]},"legend":null}}}]},
{"width":45,"height":1150,"data":{"name":"c"},"mark":"rect","encoding":{"y":{"field":"lo","type":"quantitative","scale":{"domain":[0,17],"nice":false},"axis":{"orient":"right","values":[0,3.602,7.203,10.805,14.407],"labelExpr":"format(datum.value/3.6017*0.05,'.2f')","title":"Percentage (%)"}},"y2":{"field":"hi"},"color":{"field":"l","type":"ordinal","scale":{"domain":[0,1,2,3,4,5,6,7,8,9,10,11,12,13,14,15,16]},"legend":null}}}]},
{"bounds":"flush","spacing":37,"hconcat":[
{"width":593,"height":1150,"title":"(g) Extreme strong PS","encoding":{"x":{"field":"x","type":"quantitative","scale":{"domain":[2,6],"nice":false},"axis":{"values":[2,3,4,5,6],"gridOpacity":{"condition":{"test":"datum.value==6","value":0},"value":1},"zindex":1,"title":"N","titleFontSize":68,"titleFontStyle":"italic","titleX":-347,"titleY":184,"titleAlign":"left","titleBaseline":"alphabetic"}},"y":{"field":"y","type":"quantitative","scale":{"domain":[0,20],"nice":false},"axis":{"values":[0,3,6,9,12,15,18],"zindex":1,"title":"mm","titleFontSize":68,"titleX":-90,"titleY":1334,"titleAngle":0,"titleAlign":"left","titleBaseline":"alphabetic"}}},
"layer":[{"data":{"name":"g"},"mark":{"type":"rect","width":14.9},"encoding":{"y2":{"field":"y2"},"color":{"field":"l","type":"ordinal","scale":{"domain":[0,1,2,3,4,5,6,7,8,9,10,11,12,13,14,15,16]},"legend":null}}},{"data":{"name":"lg"},"mark":{"type":"line","strokeWidth":5,"color":"#000","clip":true},"encoding":{"detail":{"field":"s"},"order":{"field":"y","sort":"descending"},"strokeDash":{"field":"s","type":"nominal","scale":{"domain":["a","b","c"],"range":[[1,0],[22,8,5,8],[5,8]]},"legend":null}}}]},
{"width":45,"height":1150,"data":{"name":"c"},"mark":"rect","encoding":{"y":{"field":"lo","type":"quantitative","scale":{"domain":[0,17],"nice":false},"axis":{"orient":"right","values":[0,3.441,6.883,10.324,13.765],"labelExpr":"format(datum.value/3.4413*0.05,'.2f')","title":"Percentage (%)"}},"y2":{"field":"hi"},"color":{"field":"l","type":"ordinal","scale":{"domain":[0,1,2,3,4,5,6,7,8,9,10,11,12,13,14,15,16]},"legend":null}}}]},
{"bounds":"flush","spacing":37,"hconcat":[
{"width":593,"height":1150,"title":"(h)Marine extreme PS","encoding":{"x":{"field":"x","type":"quantitative","scale":{"domain":[2,6],"nice":false},"axis":{"values":[2,3,4,5,6],"gridOpacity":{"condition":{"test":"datum.value==6","value":0},"value":1},"zindex":1,"title":"w","titleFontSize":49,"titleFontStyle":"italic","titleX":-1283,"titleY":192,"titleAlign":"left","titleBaseline":"alphabetic"}},"y":{"field":"y","type":"quantitative","scale":{"domain":[0,20],"nice":false},"axis":{"values":[0,3,6,9,12,15,18],"zindex":1,"title":"−1","titleFontSize":49,"titleX":-966,"titleY":1309,"titleAngle":0,"titleAlign":"left","titleBaseline":"alphabetic"}}},
"layer":[{"data":{"name":"h"},"mark":{"type":"rect","width":14.9},"encoding":{"y2":{"field":"y2"},"color":{"field":"l","type":"ordinal","scale":{"domain":[0,1,2,3,4,5,6,7,8,9,10,11,12,13,14,15,16]},"legend":null}}},{"data":{"name":"lh"},"mark":{"type":"line","strokeWidth":5,"color":"#000","clip":true},"encoding":{"detail":{"field":"s"},"order":{"field":"y","sort":"descending"},"strokeDash":{"field":"s","type":"nominal","scale":{"domain":["a","b","c"],"range":[[1,0],[22,8,5,8],[5,8]]},"legend":null}}}]},
{"width":45,"height":1150,"data":{"name":"c"},"mark":"rect","encoding":{"y":{"field":"lo","type":"quantitative","scale":{"domain":[0,17],"nice":false},"axis":{"orient":"right","values":[0,2.489,4.978,7.467,9.956,12.445,14.934],"labelExpr":"format(datum.value/2.4891*0.02,'.2f')","title":"Percentage (%)"}},"y2":{"field":"hi"},"color":{"field":"l","type":"ordinal","scale":{"domain":[0,1,2,3,4,5,6,7,8,9,10,11,12,13,14,15,16]},"legend":null}}}]}
]}
]}
